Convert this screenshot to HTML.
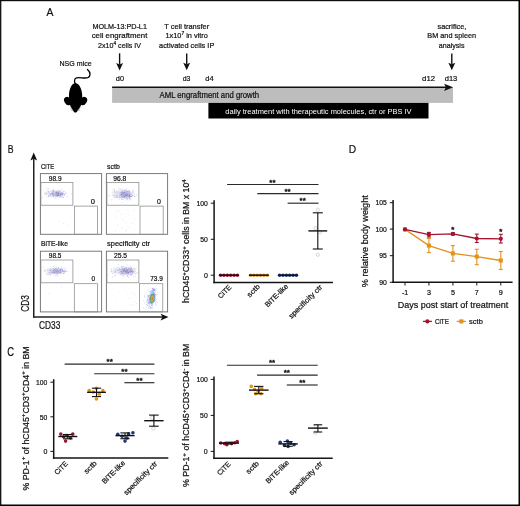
<!DOCTYPE html>
<html><head><meta charset="utf-8"><title>Figure</title>
<style>
html,body{margin:0;padding:0;background:#fff;}
body{width:520px;height:506px;overflow:hidden;font-family:"Liberation Sans",sans-serif;}
#fig{position:absolute;left:0;top:0;width:520px;height:506px;background:#fff;}
svg{position:absolute;left:0;top:0;display:block;}
svg text{font-family:"Liberation Sans",sans-serif;stroke-width:0.22px;}
svg{will-change:transform;}
</style></head><body>
<div id="fig"></div>
<svg width="520" height="506" viewBox="0 0 520 506">
<defs><filter id="bl" x="-30%" y="-30%" width="160%" height="160%"><feGaussianBlur stdDeviation="1.1"/></filter></defs>
<rect x="0.00" y="0.00" width="1.35" height="506.00" fill="#161616"/>
<rect x="0.00" y="0.00" width="520.00" height="1.20" fill="#0d0d0d"/>
<rect x="518.50" y="0.00" width="1.50" height="506.00" fill="#000"/>
<rect x="0.00" y="504.50" width="520.00" height="1.50" fill="#000"/>
<text x="46.60" y="15.70" font-size="11.8" fill="#111" stroke="#111" textLength="6.90" lengthAdjust="spacingAndGlyphs">A</text>
<text x="92.40" y="28.50" font-size="8.1" fill="#111" stroke="#111" textLength="54.50" lengthAdjust="spacingAndGlyphs">MOLM-13:PD-L1</text>
<text x="91.70" y="38.20" font-size="8.1" fill="#111" stroke="#111" textLength="55.70" lengthAdjust="spacingAndGlyphs">cell engraftment</text>
<text x="98.10" y="47.90" font-size="8.1" fill="#111" stroke="#111" textLength="42.90" lengthAdjust="spacingAndGlyphs">2x10<tspan font-size="5.4" dy="-3.0">4</tspan><tspan dy="3.0" font-size="1">&#8203;</tspan> cells IV</text>
<text x="164.20" y="28.50" font-size="8.1" fill="#111" stroke="#111" textLength="45.00" lengthAdjust="spacingAndGlyphs">T cell transfer</text>
<text x="165.50" y="38.20" font-size="8.1" fill="#111" stroke="#111" textLength="42.40" lengthAdjust="spacingAndGlyphs">1x10<tspan font-size="5.4" dy="-3.0">7</tspan><tspan dy="3.0" font-size="1">&#8203;</tspan> in vitro</text>
<text x="159.10" y="47.90" font-size="8.1" fill="#111" stroke="#111" textLength="55.20" lengthAdjust="spacingAndGlyphs">activated cells IP</text>
<text x="437.50" y="28.50" font-size="8.1" fill="#111" stroke="#111" textLength="28.80" lengthAdjust="spacingAndGlyphs">sacrifice,</text>
<text x="427.30" y="38.20" font-size="8.1" fill="#111" stroke="#111" textLength="48.80" lengthAdjust="spacingAndGlyphs">BM and spleen</text>
<text x="438.80" y="47.90" font-size="8.1" fill="#111" stroke="#111" textLength="25.70" lengthAdjust="spacingAndGlyphs">analysis</text>
<text x="59.50" y="66.00" font-size="8.1" fill="#111" stroke="#111" textLength="32.20" lengthAdjust="spacingAndGlyphs">NSG mice</text>
<line x1="119.60" y1="53.30" x2="119.60" y2="64.80" stroke="#111" stroke-width="1.4"/>
<path d="M116.15 63.00 L119.60 64.40 L123.05 63.00 L119.60 70.40 Z" fill="#111"/>
<line x1="186.70" y1="53.50" x2="186.70" y2="64.60" stroke="#111" stroke-width="1.4"/>
<path d="M183.25 62.80 L186.70 64.20 L190.15 62.80 L186.70 70.20 Z" fill="#111"/>
<line x1="451.80" y1="53.50" x2="451.80" y2="64.60" stroke="#111" stroke-width="1.4"/>
<path d="M448.35 62.80 L451.80 64.20 L455.25 62.80 L451.80 70.20 Z" fill="#111"/>
<text x="115.80" y="81.40" font-size="8.1" fill="#111" stroke="#111" textLength="8.20" lengthAdjust="spacingAndGlyphs">d0</text>
<text x="182.70" y="81.40" font-size="8.1" fill="#111" stroke="#111" textLength="7.70" lengthAdjust="spacingAndGlyphs">d3</text>
<text x="205.30" y="81.40" font-size="8.1" fill="#111" stroke="#111" textLength="8.30" lengthAdjust="spacingAndGlyphs">d4</text>
<text x="422.10" y="81.40" font-size="8.1" fill="#111" stroke="#111" textLength="12.90" lengthAdjust="spacingAndGlyphs">d12</text>
<text x="444.70" y="81.40" font-size="8.1" fill="#111" stroke="#111" textLength="12.60" lengthAdjust="spacingAndGlyphs">d13</text>
<rect x="112.10" y="87.30" width="340.90" height="15.60" fill="#bdbdbd"/>
<line x1="112.10" y1="87.35" x2="447.00" y2="87.35" stroke="#111" stroke-width="1.5"/>
<path d="M444.1 83.8 L453.1 87.35 L444.1 90.9 L445.9 87.35 Z" fill="#111"/>
<rect x="208.40" y="102.90" width="220.10" height="15.60" fill="#000"/>
<text x="159.50" y="98.00" font-size="8.2" fill="#111" stroke="#111" textLength="99.70" lengthAdjust="spacingAndGlyphs">AML engraftment and growth</text>
<text x="225.30" y="113.50" font-size="8.0" fill="#fff" textLength="186.20" lengthAdjust="spacingAndGlyphs">daily treatment with therapeutic molecules, ctr or PBS IV</text>
<g fill="#000"><path d="M75.3 83.8 C74.0 81 74.2 78.6 76.6 77.9 C80 76.9 84.6 78.9 87.8 77.6 C90.8 76.3 90.9 72.6 87.5 69.5" fill="none" stroke="#000" stroke-width="1.3" stroke-linecap="round"/><path d="M75.3 82.9 C71.3 83.3 69.2 89.5 69.0 95.0 C68.9 98.5 69.2 102 70.0 104.9 C70.7 106.8 72.2 109.2 73.4 110.9 C74.2 112.9 76.6 112.9 77.4 110.9 C78.8 109.2 80.4 106.8 81.1 104.9 C81.9 102 82.3 98.5 82.2 95 C82.0 89.5 79.6 83.3 75.3 82.9 Z"/><ellipse cx="67.8" cy="101.0" rx="3.4" ry="4.4" transform="rotate(-32 67.8 101.0)"/><ellipse cx="83.4" cy="101.0" rx="3.4" ry="4.4" transform="rotate(32 83.4 101.0)"/></g>
<g stroke="#777" stroke-width="0.55"><line x1="73.2" y1="110.0" x2="70.2" y2="107.6"/><line x1="73.2" y1="110.6" x2="70.6" y2="109.9"/><line x1="77.6" y1="110.0" x2="80.6" y2="107.6"/><line x1="77.6" y1="110.6" x2="80.2" y2="109.9"/></g>
<text x="7.70" y="152.90" font-size="11.6" fill="#111" stroke="#111" textLength="5.80" lengthAdjust="spacingAndGlyphs">B</text>
<line x1="33.75" y1="317.80" x2="33.75" y2="158.50" stroke="#222" stroke-width="1.5"/>
<path d="M30.35 160.4 L33.75 152.4 L37.15 160.4 L33.75 158.7 Z" fill="#111"/>
<line x1="33.00" y1="317.10" x2="163.00" y2="317.10" stroke="#222" stroke-width="1.5"/>
<path d="M160.6 313.7 L168.5 317.1 L160.6 320.5 L162.4 317.1 Z" fill="#111"/>
<text transform="translate(29.1 311.7) rotate(-90)" font-size="10.7" fill="#111" stroke="#111" textLength="16.6" lengthAdjust="spacingAndGlyphs">CD3</text>
<text x="39.00" y="328.80" font-size="10.2" fill="#111" stroke="#111" textLength="21.30" lengthAdjust="spacingAndGlyphs">CD33</text>
<rect x="40.40" y="173.60" width="61.20" height="60.70" fill="none" stroke="#747474" stroke-width="0.95"/>
<text x="41.00" y="168.50" font-size="8.1" fill="#111" stroke="#111" textLength="13.30" lengthAdjust="spacingAndGlyphs">CiTE</text>
<rect x="40.90" y="182.40" width="32.00" height="22.80" fill="none" stroke="#8a8a8a" stroke-width="0.75"/>
<rect x="74.40" y="206.10" width="23.20" height="28.20" fill="none" stroke="#8a8a8a" stroke-width="0.75"/>
<text x="48.80" y="180.50" font-size="7.6" fill="#111" stroke="#111" textLength="12.80" lengthAdjust="spacingAndGlyphs">98.9</text>
<text x="90.80" y="203.70" font-size="7.6" fill="#111" stroke="#111" textLength="4.20" lengthAdjust="spacingAndGlyphs">0</text>
<ellipse cx="55.0" cy="193.6" rx="10.5" ry="3.1" fill="#9090d8" opacity="0.22" filter="url(#bl)"/>
<ellipse cx="57.8" cy="193.6" rx="4.5" ry="1.8" fill="#7070c8" opacity="0.22" filter="url(#bl)"/>
<path d="M60.4 195.3h0.7v0.7h-0.7zM60.6 194.4h0.7v0.7h-0.7zM52.6 194.8h0.7v0.7h-0.7zM47.8 191.2h0.7v0.7h-0.7zM51.0 196.0h0.7v0.7h-0.7zM55.8 196.1h0.7v0.7h-0.7zM56.0 193.2h0.7v0.7h-0.7zM58.8 193.8h0.7v0.7h-0.7zM55.3 194.0h0.7v0.7h-0.7zM55.9 194.9h0.7v0.7h-0.7zM53.3 194.8h0.7v0.7h-0.7zM52.7 192.7h0.7v0.7h-0.7zM59.8 194.2h0.7v0.7h-0.7zM54.3 195.0h0.7v0.7h-0.7zM58.0 192.8h0.7v0.7h-0.7zM60.9 192.8h0.7v0.7h-0.7zM53.0 196.1h0.7v0.7h-0.7zM50.5 194.8h0.7v0.7h-0.7zM56.7 195.4h0.7v0.7h-0.7zM55.1 195.0h0.7v0.7h-0.7zM44.3 193.3h0.7v0.7h-0.7zM59.7 194.0h0.7v0.7h-0.7zM56.6 193.2h0.7v0.7h-0.7zM61.9 193.0h0.7v0.7h-0.7zM51.2 192.7h0.7v0.7h-0.7zM47.7 191.9h0.7v0.7h-0.7zM61.0 195.5h0.7v0.7h-0.7zM56.5 192.0h0.7v0.7h-0.7zM54.6 191.6h0.7v0.7h-0.7zM53.8 195.9h0.7v0.7h-0.7zM58.8 196.2h0.7v0.7h-0.7zM59.3 190.0h0.7v0.7h-0.7zM52.8 193.7h0.7v0.7h-0.7zM49.6 193.9h0.7v0.7h-0.7zM66.3 191.9h0.7v0.7h-0.7zM60.6 194.6h0.7v0.7h-0.7zM53.1 191.4h0.7v0.7h-0.7zM54.6 191.5h0.7v0.7h-0.7zM59.5 195.2h0.7v0.7h-0.7zM60.2 195.9h0.7v0.7h-0.7zM62.5 192.8h0.7v0.7h-0.7zM48.9 196.1h0.7v0.7h-0.7zM59.3 191.4h0.7v0.7h-0.7zM60.8 193.0h0.7v0.7h-0.7zM55.6 195.4h0.7v0.7h-0.7zM62.4 195.9h0.7v0.7h-0.7zM51.5 193.4h0.7v0.7h-0.7zM58.1 192.8h0.7v0.7h-0.7zM57.2 191.8h0.7v0.7h-0.7zM46.1 193.1h0.7v0.7h-0.7zM58.7 194.2h0.7v0.7h-0.7zM45.0 193.4h0.7v0.7h-0.7zM57.9 195.4h0.7v0.7h-0.7zM60.2 194.7h0.7v0.7h-0.7zM49.8 194.3h0.7v0.7h-0.7zM57.7 192.8h0.7v0.7h-0.7zM63.8 191.1h0.7v0.7h-0.7zM66.8 196.4h0.7v0.7h-0.7zM48.1 195.0h0.7v0.7h-0.7zM51.7 193.5h0.7v0.7h-0.7zM58.8 194.8h0.7v0.7h-0.7zM61.3 192.7h0.7v0.7h-0.7zM54.1 194.0h0.7v0.7h-0.7zM66.6 196.0h0.7v0.7h-0.7zM61.5 192.6h0.7v0.7h-0.7zM57.9 194.3h0.7v0.7h-0.7zM60.8 196.6h0.7v0.7h-0.7zM58.7 195.1h0.7v0.7h-0.7zM61.1 189.2h0.7v0.7h-0.7zM57.4 191.8h0.7v0.7h-0.7zM52.5 195.2h0.7v0.7h-0.7zM60.2 191.6h0.7v0.7h-0.7zM57.2 194.0h0.7v0.7h-0.7zM53.2 195.4h0.7v0.7h-0.7zM58.8 194.6h0.7v0.7h-0.7zM64.1 194.2h0.7v0.7h-0.7zM56.5 192.7h0.7v0.7h-0.7zM58.5 192.9h0.7v0.7h-0.7zM56.5 195.5h0.7v0.7h-0.7zM52.7 190.8h0.7v0.7h-0.7zM53.0 189.2h0.7v0.7h-0.7zM54.5 190.5h0.7v0.7h-0.7zM52.5 192.0h0.7v0.7h-0.7zM53.7 193.6h0.7v0.7h-0.7zM57.6 192.5h0.7v0.7h-0.7zM55.5 197.7h0.7v0.7h-0.7zM60.0 193.0h0.7v0.7h-0.7zM57.0 193.1h0.7v0.7h-0.7zM55.0 191.8h0.7v0.7h-0.7zM60.1 194.0h0.7v0.7h-0.7zM65.0 193.1h0.7v0.7h-0.7zM42.1 197.1h0.7v0.7h-0.7zM62.1 194.9h0.7v0.7h-0.7zM52.7 193.6h0.7v0.7h-0.7zM51.2 191.3h0.7v0.7h-0.7zM56.7 194.1h0.7v0.7h-0.7zM57.8 190.8h0.7v0.7h-0.7zM54.7 194.0h0.7v0.7h-0.7zM60.6 194.2h0.7v0.7h-0.7zM55.6 194.1h0.7v0.7h-0.7zM62.1 194.3h0.7v0.7h-0.7zM57.4 195.3h0.7v0.7h-0.7zM56.0 191.1h0.7v0.7h-0.7zM57.9 191.5h0.7v0.7h-0.7zM61.1 192.6h0.7v0.7h-0.7zM56.4 194.6h0.7v0.7h-0.7zM49.2 193.6h0.7v0.7h-0.7zM50.5 194.0h0.7v0.7h-0.7zM59.6 195.2h0.7v0.7h-0.7zM57.6 195.5h0.7v0.7h-0.7zM59.3 190.9h0.7v0.7h-0.7zM55.6 196.0h0.7v0.7h-0.7zM59.7 193.3h0.7v0.7h-0.7zM62.6 196.7h0.7v0.7h-0.7zM57.8 193.5h0.7v0.7h-0.7zM61.7 192.6h0.7v0.7h-0.7zM56.3 195.4h0.7v0.7h-0.7zM56.7 195.1h0.7v0.7h-0.7zM60.4 191.8h0.7v0.7h-0.7zM60.9 193.9h0.7v0.7h-0.7zM58.3 195.1h0.7v0.7h-0.7zM57.5 193.7h0.7v0.7h-0.7zM49.4 193.5h0.7v0.7h-0.7zM58.8 192.7h0.7v0.7h-0.7zM60.6 192.6h0.7v0.7h-0.7zM58.7 195.5h0.7v0.7h-0.7zM55.2 192.8h0.7v0.7h-0.7zM53.2 194.3h0.7v0.7h-0.7zM71.1 193.5h0.7v0.7h-0.7zM56.3 192.4h0.7v0.7h-0.7zM51.0 194.0h0.7v0.7h-0.7zM53.2 196.5h0.7v0.7h-0.7zM58.0 192.2h0.7v0.7h-0.7zM54.5 193.2h0.7v0.7h-0.7zM64.2 194.8h0.7v0.7h-0.7zM61.7 194.4h0.7v0.7h-0.7zM61.9 193.1h0.7v0.7h-0.7zM48.2 188.5h0.7v0.7h-0.7zM58.0 190.4h0.7v0.7h-0.7z" fill="#8888d6" opacity="0.5"/>
<path d="M62.3 195.4h0.7v0.7h-0.7zM60.0 194.7h0.7v0.7h-0.7zM54.7 196.8h0.7v0.7h-0.7zM63.1 191.0h0.7v0.7h-0.7zM50.3 193.4h0.7v0.7h-0.7zM58.5 195.4h0.7v0.7h-0.7zM58.0 192.3h0.7v0.7h-0.7zM47.3 189.8h0.7v0.7h-0.7zM61.0 192.8h0.7v0.7h-0.7zM55.0 192.5h0.7v0.7h-0.7zM57.7 193.3h0.7v0.7h-0.7zM56.9 192.2h0.7v0.7h-0.7zM58.1 193.8h0.7v0.7h-0.7zM62.9 195.0h0.7v0.7h-0.7zM65.9 192.7h0.7v0.7h-0.7zM53.0 193.0h0.7v0.7h-0.7zM44.8 192.4h0.7v0.7h-0.7zM45.3 193.5h0.7v0.7h-0.7zM51.6 191.8h0.7v0.7h-0.7zM52.6 194.1h0.7v0.7h-0.7zM63.3 196.9h0.7v0.7h-0.7zM43.4 189.7h0.7v0.7h-0.7zM57.0 193.2h0.7v0.7h-0.7zM47.9 194.9h0.7v0.7h-0.7zM59.4 193.4h0.7v0.7h-0.7zM51.5 193.7h0.7v0.7h-0.7zM56.4 194.2h0.7v0.7h-0.7z" fill="#b8b070" opacity="0.5"/>
<path d="M52.5 193.1h0.7v0.7h-0.7zM55.7 195.0h0.7v0.7h-0.7zM56.5 191.6h0.7v0.7h-0.7zM48.2 196.2h0.7v0.7h-0.7zM51.7 192.7h0.7v0.7h-0.7zM58.1 194.6h0.7v0.7h-0.7zM56.6 194.0h0.7v0.7h-0.7zM62.4 193.5h0.7v0.7h-0.7zM62.5 192.8h0.7v0.7h-0.7zM63.8 194.2h0.7v0.7h-0.7zM62.5 197.2h0.7v0.7h-0.7zM57.2 195.3h0.7v0.7h-0.7zM58.1 192.6h0.7v0.7h-0.7zM56.4 192.3h0.7v0.7h-0.7zM59.4 197.3h0.7v0.7h-0.7zM46.4 188.4h0.7v0.7h-0.7zM62.2 194.4h0.7v0.7h-0.7zM57.9 195.2h0.7v0.7h-0.7zM53.3 191.5h0.7v0.7h-0.7zM60.8 193.6h0.7v0.7h-0.7zM52.7 193.2h0.7v0.7h-0.7zM52.7 190.8h0.7v0.7h-0.7zM62.7 193.2h0.7v0.7h-0.7zM61.1 194.4h0.7v0.7h-0.7zM60.0 194.5h0.7v0.7h-0.7zM57.6 193.1h0.7v0.7h-0.7zM58.1 195.3h0.7v0.7h-0.7zM57.1 196.0h0.7v0.7h-0.7zM57.8 195.1h0.7v0.7h-0.7zM53.1 194.7h0.7v0.7h-0.7zM52.5 190.1h0.7v0.7h-0.7zM48.1 191.5h0.7v0.7h-0.7zM60.0 196.4h0.7v0.7h-0.7zM60.6 193.9h0.7v0.7h-0.7zM58.9 193.2h0.7v0.7h-0.7zM55.6 192.2h0.7v0.7h-0.7zM52.2 193.9h0.7v0.7h-0.7zM58.4 193.4h0.7v0.7h-0.7zM55.6 192.6h0.7v0.7h-0.7zM58.2 195.2h0.7v0.7h-0.7zM50.1 194.8h0.7v0.7h-0.7z" fill="#4848b8" opacity="0.5"/>
<path d="M65.1 222.9h0.6v0.6h-0.6zM59.3 221.7h0.6v0.6h-0.6zM67.2 224.6h0.6v0.6h-0.6zM62.9 223.1h0.6v0.6h-0.6zM54.7 230.2h0.6v0.6h-0.6z" fill="#8a8ad8" opacity="0.4"/>
<rect x="106.40" y="173.60" width="61.20" height="60.70" fill="none" stroke="#747474" stroke-width="0.95"/>
<text x="107.00" y="168.50" font-size="8.1" fill="#111" stroke="#111" textLength="12.80" lengthAdjust="spacingAndGlyphs">sctb</text>
<rect x="106.90" y="182.40" width="32.00" height="22.80" fill="none" stroke="#8a8a8a" stroke-width="0.75"/>
<rect x="140.00" y="206.10" width="23.20" height="28.20" fill="none" stroke="#8a8a8a" stroke-width="0.75"/>
<text x="113.20" y="180.50" font-size="7.6" fill="#111" stroke="#111" textLength="13.10" lengthAdjust="spacingAndGlyphs">96.8</text>
<text x="156.90" y="203.70" font-size="7.6" fill="#111" stroke="#111" textLength="3.90" lengthAdjust="spacingAndGlyphs">0</text>
<ellipse cx="122.7" cy="194.4" rx="10.9" ry="4.4" fill="#9090d8" opacity="0.22" filter="url(#bl)"/>
<ellipse cx="125.6" cy="194.4" rx="4.7" ry="2.6" fill="#7070c8" opacity="0.22" filter="url(#bl)"/>
<path d="M126.5 191.7h0.7v0.7h-0.7zM122.1 192.3h0.7v0.7h-0.7zM128.2 195.6h0.7v0.7h-0.7zM123.4 193.0h0.7v0.7h-0.7zM128.5 195.6h0.7v0.7h-0.7zM119.4 194.3h0.7v0.7h-0.7zM123.1 193.7h0.7v0.7h-0.7zM125.6 194.7h0.7v0.7h-0.7zM113.8 191.8h0.7v0.7h-0.7zM125.7 194.1h0.7v0.7h-0.7zM124.5 197.8h0.7v0.7h-0.7zM114.1 190.5h0.7v0.7h-0.7zM124.8 196.6h0.7v0.7h-0.7zM124.5 196.5h0.7v0.7h-0.7zM133.9 193.5h0.7v0.7h-0.7zM126.9 191.3h0.7v0.7h-0.7zM129.0 196.0h0.7v0.7h-0.7zM124.5 196.4h0.7v0.7h-0.7zM116.3 191.4h0.7v0.7h-0.7zM129.6 198.1h0.7v0.7h-0.7zM124.0 192.8h0.7v0.7h-0.7zM122.5 191.3h0.7v0.7h-0.7zM129.2 199.4h0.7v0.7h-0.7zM119.6 192.3h0.7v0.7h-0.7zM120.5 190.4h0.7v0.7h-0.7zM123.8 194.5h0.7v0.7h-0.7zM126.0 195.1h0.7v0.7h-0.7zM122.2 192.8h0.7v0.7h-0.7z" fill="#b8b070" opacity="0.5"/>
<path d="M125.6 192.8h0.7v0.7h-0.7zM112.6 194.9h0.7v0.7h-0.7zM126.5 194.0h0.7v0.7h-0.7zM120.0 192.9h0.7v0.7h-0.7zM122.8 193.6h0.7v0.7h-0.7zM125.6 196.0h0.7v0.7h-0.7zM127.3 193.7h0.7v0.7h-0.7zM129.4 194.3h0.7v0.7h-0.7zM128.8 196.7h0.7v0.7h-0.7zM128.0 195.1h0.7v0.7h-0.7zM120.7 192.1h0.7v0.7h-0.7zM126.3 191.4h0.7v0.7h-0.7zM121.9 192.8h0.7v0.7h-0.7zM125.1 194.9h0.7v0.7h-0.7zM124.8 189.8h0.7v0.7h-0.7zM115.8 196.2h0.7v0.7h-0.7zM116.8 195.9h0.7v0.7h-0.7zM130.7 195.5h0.7v0.7h-0.7zM131.1 194.8h0.7v0.7h-0.7zM116.0 196.7h0.7v0.7h-0.7zM126.5 195.3h0.7v0.7h-0.7zM128.3 192.8h0.7v0.7h-0.7zM124.5 195.4h0.7v0.7h-0.7zM128.7 197.0h0.7v0.7h-0.7zM122.0 192.5h0.7v0.7h-0.7zM111.7 189.9h0.7v0.7h-0.7zM128.5 190.6h0.7v0.7h-0.7zM125.9 197.2h0.7v0.7h-0.7zM124.5 190.0h0.7v0.7h-0.7zM128.1 190.0h0.7v0.7h-0.7zM122.3 192.9h0.7v0.7h-0.7zM114.3 195.6h0.7v0.7h-0.7zM123.5 190.6h0.7v0.7h-0.7zM119.7 195.2h0.7v0.7h-0.7zM125.8 194.9h0.7v0.7h-0.7zM114.4 189.4h0.7v0.7h-0.7zM134.2 194.3h0.7v0.7h-0.7zM129.3 194.1h0.7v0.7h-0.7zM121.0 192.0h0.7v0.7h-0.7zM125.6 196.2h0.7v0.7h-0.7zM125.3 196.9h0.7v0.7h-0.7zM126.6 196.4h0.7v0.7h-0.7zM125.6 193.1h0.7v0.7h-0.7zM121.1 193.8h0.7v0.7h-0.7zM113.2 195.6h0.7v0.7h-0.7zM119.4 193.5h0.7v0.7h-0.7zM129.8 194.2h0.7v0.7h-0.7zM127.6 195.1h0.7v0.7h-0.7zM122.8 194.2h0.7v0.7h-0.7zM121.9 191.9h0.7v0.7h-0.7zM122.1 195.4h0.7v0.7h-0.7zM126.3 197.4h0.7v0.7h-0.7zM126.3 197.1h0.7v0.7h-0.7zM123.0 192.7h0.7v0.7h-0.7zM121.4 191.2h0.7v0.7h-0.7zM122.1 202.0h0.7v0.7h-0.7zM127.6 194.6h0.7v0.7h-0.7zM121.0 194.3h0.7v0.7h-0.7zM124.5 193.3h0.7v0.7h-0.7zM124.6 193.6h0.7v0.7h-0.7zM131.8 192.5h0.7v0.7h-0.7zM127.8 194.7h0.7v0.7h-0.7zM123.3 196.4h0.7v0.7h-0.7zM128.3 191.7h0.7v0.7h-0.7zM124.9 191.7h0.7v0.7h-0.7zM114.2 197.3h0.7v0.7h-0.7zM127.1 194.6h0.7v0.7h-0.7zM126.1 194.8h0.7v0.7h-0.7zM125.0 193.9h0.7v0.7h-0.7zM131.2 196.3h0.7v0.7h-0.7zM129.4 193.7h0.7v0.7h-0.7zM126.0 195.4h0.7v0.7h-0.7zM132.7 191.3h0.7v0.7h-0.7zM117.8 192.3h0.7v0.7h-0.7zM126.8 191.5h0.7v0.7h-0.7zM125.0 194.6h0.7v0.7h-0.7zM134.1 196.2h0.7v0.7h-0.7zM115.1 192.0h0.7v0.7h-0.7zM128.6 195.8h0.7v0.7h-0.7zM126.9 198.5h0.7v0.7h-0.7zM126.3 188.7h0.7v0.7h-0.7zM129.7 196.2h0.7v0.7h-0.7zM123.9 193.8h0.7v0.7h-0.7zM122.5 196.5h0.7v0.7h-0.7zM129.7 194.3h0.7v0.7h-0.7zM121.7 190.7h0.7v0.7h-0.7zM120.7 197.4h0.7v0.7h-0.7zM129.0 197.8h0.7v0.7h-0.7zM121.7 196.9h0.7v0.7h-0.7zM127.4 193.4h0.7v0.7h-0.7zM125.8 190.5h0.7v0.7h-0.7zM126.3 199.6h0.7v0.7h-0.7zM121.5 192.8h0.7v0.7h-0.7zM126.7 195.4h0.7v0.7h-0.7zM117.4 195.3h0.7v0.7h-0.7zM128.3 192.9h0.7v0.7h-0.7zM121.5 195.1h0.7v0.7h-0.7zM112.7 191.8h0.7v0.7h-0.7zM113.1 188.5h0.7v0.7h-0.7zM116.7 191.4h0.7v0.7h-0.7zM123.5 190.2h0.7v0.7h-0.7zM119.5 189.6h0.7v0.7h-0.7zM122.1 190.8h0.7v0.7h-0.7zM115.3 197.0h0.7v0.7h-0.7zM123.8 194.1h0.7v0.7h-0.7zM125.0 194.5h0.7v0.7h-0.7zM119.0 197.1h0.7v0.7h-0.7zM125.6 198.3h0.7v0.7h-0.7zM113.9 191.1h0.7v0.7h-0.7zM114.1 190.6h0.7v0.7h-0.7zM129.4 198.5h0.7v0.7h-0.7zM124.5 196.9h0.7v0.7h-0.7zM109.0 195.6h0.7v0.7h-0.7zM108.4 195.1h0.7v0.7h-0.7zM122.5 192.1h0.7v0.7h-0.7zM124.6 196.3h0.7v0.7h-0.7zM132.9 191.0h0.7v0.7h-0.7zM123.2 196.7h0.7v0.7h-0.7zM128.0 195.2h0.7v0.7h-0.7zM129.0 192.6h0.7v0.7h-0.7zM132.4 190.6h0.7v0.7h-0.7zM128.0 196.3h0.7v0.7h-0.7zM129.7 192.6h0.7v0.7h-0.7zM119.4 193.4h0.7v0.7h-0.7zM119.8 192.4h0.7v0.7h-0.7zM132.1 195.3h0.7v0.7h-0.7zM129.2 196.6h0.7v0.7h-0.7zM124.7 191.5h0.7v0.7h-0.7zM127.8 193.5h0.7v0.7h-0.7zM119.9 193.1h0.7v0.7h-0.7zM122.7 194.5h0.7v0.7h-0.7zM118.8 197.1h0.7v0.7h-0.7zM127.0 194.2h0.7v0.7h-0.7zM122.5 193.7h0.7v0.7h-0.7zM122.2 192.4h0.7v0.7h-0.7zM123.8 192.4h0.7v0.7h-0.7zM126.0 194.9h0.7v0.7h-0.7zM117.9 191.6h0.7v0.7h-0.7zM116.6 193.4h0.7v0.7h-0.7zM126.2 194.5h0.7v0.7h-0.7zM128.7 193.3h0.7v0.7h-0.7zM124.2 193.3h0.7v0.7h-0.7zM121.0 194.6h0.7v0.7h-0.7zM125.3 192.5h0.7v0.7h-0.7zM130.7 194.8h0.7v0.7h-0.7zM125.3 189.7h0.7v0.7h-0.7zM118.6 187.7h0.7v0.7h-0.7zM122.1 193.5h0.7v0.7h-0.7zM123.8 194.7h0.7v0.7h-0.7zM122.1 191.3h0.7v0.7h-0.7zM129.8 199.1h0.7v0.7h-0.7zM126.2 192.2h0.7v0.7h-0.7zM116.2 193.2h0.7v0.7h-0.7zM114.1 189.3h0.7v0.7h-0.7zM121.8 193.8h0.7v0.7h-0.7zM124.4 196.5h0.7v0.7h-0.7zM123.9 191.8h0.7v0.7h-0.7zM121.9 194.6h0.7v0.7h-0.7zM129.6 198.3h0.7v0.7h-0.7zM129.9 197.8h0.7v0.7h-0.7zM125.6 189.6h0.7v0.7h-0.7zM128.6 195.1h0.7v0.7h-0.7zM130.6 196.4h0.7v0.7h-0.7zM123.4 194.3h0.7v0.7h-0.7zM127.7 197.3h0.7v0.7h-0.7zM122.1 197.2h0.7v0.7h-0.7zM128.9 193.3h0.7v0.7h-0.7zM124.3 194.6h0.7v0.7h-0.7zM123.4 196.5h0.7v0.7h-0.7zM127.3 199.0h0.7v0.7h-0.7zM130.8 193.2h0.7v0.7h-0.7zM127.7 194.7h0.7v0.7h-0.7zM126.4 194.5h0.7v0.7h-0.7zM121.1 192.9h0.7v0.7h-0.7zM123.8 194.8h0.7v0.7h-0.7zM122.3 195.4h0.7v0.7h-0.7zM130.9 196.0h0.7v0.7h-0.7zM128.9 197.2h0.7v0.7h-0.7zM118.9 198.9h0.7v0.7h-0.7zM123.4 195.9h0.7v0.7h-0.7zM126.8 195.7h0.7v0.7h-0.7zM128.6 191.9h0.7v0.7h-0.7zM129.8 199.9h0.7v0.7h-0.7zM132.5 188.9h0.7v0.7h-0.7zM126.9 194.5h0.7v0.7h-0.7zM125.8 195.4h0.7v0.7h-0.7zM129.6 197.7h0.7v0.7h-0.7zM125.6 194.9h0.7v0.7h-0.7zM127.5 196.5h0.7v0.7h-0.7zM129.4 192.5h0.7v0.7h-0.7zM126.4 193.5h0.7v0.7h-0.7zM116.6 195.5h0.7v0.7h-0.7zM127.1 196.1h0.7v0.7h-0.7zM125.2 192.7h0.7v0.7h-0.7zM127.5 192.2h0.7v0.7h-0.7zM128.8 194.9h0.7v0.7h-0.7zM126.9 195.4h0.7v0.7h-0.7zM123.0 195.7h0.7v0.7h-0.7zM120.4 188.5h0.7v0.7h-0.7zM121.8 192.3h0.7v0.7h-0.7zM125.4 193.7h0.7v0.7h-0.7zM121.0 196.3h0.7v0.7h-0.7zM121.5 196.6h0.7v0.7h-0.7zM124.4 191.8h0.7v0.7h-0.7zM133.3 192.1h0.7v0.7h-0.7zM124.3 190.7h0.7v0.7h-0.7zM128.6 191.0h0.7v0.7h-0.7zM121.7 193.9h0.7v0.7h-0.7zM129.4 195.9h0.7v0.7h-0.7zM125.6 198.2h0.7v0.7h-0.7zM130.3 192.9h0.7v0.7h-0.7zM122.8 195.1h0.7v0.7h-0.7zM125.7 193.4h0.7v0.7h-0.7zM128.4 196.5h0.7v0.7h-0.7zM120.8 192.9h0.7v0.7h-0.7z" fill="#8888d6" opacity="0.5"/>
<path d="M126.9 194.9h0.7v0.7h-0.7zM119.7 195.0h0.7v0.7h-0.7zM111.5 199.5h0.7v0.7h-0.7zM129.3 194.9h0.7v0.7h-0.7zM121.0 193.8h0.7v0.7h-0.7zM127.3 194.8h0.7v0.7h-0.7zM126.1 193.9h0.7v0.7h-0.7zM124.1 196.6h0.7v0.7h-0.7zM119.9 196.9h0.7v0.7h-0.7zM129.2 194.2h0.7v0.7h-0.7zM116.4 195.1h0.7v0.7h-0.7zM127.2 191.3h0.7v0.7h-0.7zM129.8 195.5h0.7v0.7h-0.7zM136.5 194.7h0.7v0.7h-0.7zM121.0 198.8h0.7v0.7h-0.7zM122.3 196.2h0.7v0.7h-0.7zM122.4 188.9h0.7v0.7h-0.7zM128.9 194.8h0.7v0.7h-0.7zM117.3 197.2h0.7v0.7h-0.7zM124.7 195.5h0.7v0.7h-0.7zM121.7 192.3h0.7v0.7h-0.7zM121.2 196.3h0.7v0.7h-0.7zM120.5 194.5h0.7v0.7h-0.7zM125.2 194.6h0.7v0.7h-0.7zM123.6 192.6h0.7v0.7h-0.7zM123.8 195.5h0.7v0.7h-0.7zM124.0 192.9h0.7v0.7h-0.7zM126.9 193.3h0.7v0.7h-0.7zM124.2 192.0h0.7v0.7h-0.7zM124.8 195.6h0.7v0.7h-0.7zM123.5 197.3h0.7v0.7h-0.7zM125.9 191.5h0.7v0.7h-0.7zM119.1 196.4h0.7v0.7h-0.7zM126.4 194.8h0.7v0.7h-0.7zM119.6 193.9h0.7v0.7h-0.7zM123.9 197.0h0.7v0.7h-0.7zM122.4 199.0h0.7v0.7h-0.7zM122.8 192.1h0.7v0.7h-0.7zM129.1 191.4h0.7v0.7h-0.7zM129.1 195.7h0.7v0.7h-0.7zM121.1 194.2h0.7v0.7h-0.7zM127.4 198.4h0.7v0.7h-0.7zM131.3 196.3h0.7v0.7h-0.7zM134.6 196.2h0.7v0.7h-0.7zM125.8 195.1h0.7v0.7h-0.7zM121.7 194.3h0.7v0.7h-0.7zM129.1 190.9h0.7v0.7h-0.7zM129.7 196.5h0.7v0.7h-0.7zM125.7 194.9h0.7v0.7h-0.7zM132.6 195.0h0.7v0.7h-0.7z" fill="#4848b8" opacity="0.5"/>
<path d="M126.3 222.3h0.6v0.6h-0.6zM115.1 230.0h0.6v0.6h-0.6zM115.4 217.2h0.6v0.6h-0.6zM122.4 227.2h0.6v0.6h-0.6zM128.7 227.3h0.6v0.6h-0.6zM125.7 230.3h0.6v0.6h-0.6zM120.8 218.0h0.6v0.6h-0.6zM125.6 216.4h0.6v0.6h-0.6zM117.3 223.9h0.6v0.6h-0.6zM121.5 227.9h0.6v0.6h-0.6zM127.7 209.8h0.6v0.6h-0.6zM116.6 213.5h0.6v0.6h-0.6zM120.9 213.8h0.6v0.6h-0.6zM127.8 214.3h0.6v0.6h-0.6zM122.8 217.9h0.6v0.6h-0.6zM134.4 219.1h0.6v0.6h-0.6zM115.3 230.2h0.6v0.6h-0.6zM133.9 210.4h0.6v0.6h-0.6zM131.7 222.6h0.6v0.6h-0.6zM132.8 222.7h0.6v0.6h-0.6zM127.0 226.5h0.6v0.6h-0.6zM115.1 211.7h0.6v0.6h-0.6zM116.8 209.9h0.6v0.6h-0.6zM119.1 210.4h0.6v0.6h-0.6zM116.7 216.9h0.6v0.6h-0.6zM117.7 210.9h0.6v0.6h-0.6zM133.6 228.9h0.6v0.6h-0.6zM132.4 211.4h0.6v0.6h-0.6zM126.2 229.2h0.6v0.6h-0.6zM123.2 220.3h0.6v0.6h-0.6z" fill="#8a8ad8" opacity="0.4"/>
<rect x="40.40" y="251.20" width="61.20" height="60.70" fill="none" stroke="#747474" stroke-width="0.95"/>
<text x="41.00" y="246.10" font-size="8.1" fill="#111" stroke="#111" textLength="27.00" lengthAdjust="spacingAndGlyphs">BiTE-like</text>
<rect x="40.90" y="260.00" width="32.00" height="22.80" fill="none" stroke="#8a8a8a" stroke-width="0.75"/>
<rect x="74.30" y="283.70" width="23.20" height="28.20" fill="none" stroke="#8a8a8a" stroke-width="0.75"/>
<text x="48.80" y="258.10" font-size="7.6" fill="#111" stroke="#111" textLength="12.60" lengthAdjust="spacingAndGlyphs">98.5</text>
<text x="91.60" y="281.30" font-size="7.6" fill="#111" stroke="#111" textLength="3.70" lengthAdjust="spacingAndGlyphs">0</text>
<ellipse cx="54.8" cy="270.9" rx="10.1" ry="3.1" fill="#9090d8" opacity="0.22" filter="url(#bl)"/>
<ellipse cx="57.4" cy="270.9" rx="4.3" ry="1.8" fill="#7070c8" opacity="0.22" filter="url(#bl)"/>
<path d="M61.9 269.3h0.7v0.7h-0.7zM53.5 270.0h0.7v0.7h-0.7zM53.2 273.2h0.7v0.7h-0.7zM54.9 271.1h0.7v0.7h-0.7zM53.8 273.2h0.7v0.7h-0.7zM56.3 271.9h0.7v0.7h-0.7zM57.6 270.1h0.7v0.7h-0.7zM52.9 271.8h0.7v0.7h-0.7zM61.9 270.8h0.7v0.7h-0.7zM56.6 270.2h0.7v0.7h-0.7zM54.5 269.4h0.7v0.7h-0.7zM49.8 270.9h0.7v0.7h-0.7zM58.7 268.0h0.7v0.7h-0.7zM54.3 271.4h0.7v0.7h-0.7zM56.3 272.6h0.7v0.7h-0.7zM55.9 271.6h0.7v0.7h-0.7zM60.5 268.6h0.7v0.7h-0.7zM51.5 272.3h0.7v0.7h-0.7zM57.1 274.0h0.7v0.7h-0.7zM50.3 268.2h0.7v0.7h-0.7zM53.1 270.9h0.7v0.7h-0.7zM59.6 272.2h0.7v0.7h-0.7zM57.9 268.3h0.7v0.7h-0.7zM50.5 271.6h0.7v0.7h-0.7zM54.6 269.5h0.7v0.7h-0.7zM55.5 273.5h0.7v0.7h-0.7zM47.6 269.8h0.7v0.7h-0.7zM53.9 270.7h0.7v0.7h-0.7zM57.8 270.4h0.7v0.7h-0.7zM50.6 270.3h0.7v0.7h-0.7zM58.5 271.9h0.7v0.7h-0.7zM56.4 270.6h0.7v0.7h-0.7zM60.5 270.5h0.7v0.7h-0.7zM64.0 271.8h0.7v0.7h-0.7zM61.8 269.3h0.7v0.7h-0.7zM57.3 273.9h0.7v0.7h-0.7zM53.8 272.4h0.7v0.7h-0.7zM53.6 272.3h0.7v0.7h-0.7zM54.2 272.4h0.7v0.7h-0.7zM50.9 272.4h0.7v0.7h-0.7zM55.6 272.2h0.7v0.7h-0.7zM51.8 272.1h0.7v0.7h-0.7zM56.7 273.6h0.7v0.7h-0.7zM52.2 271.4h0.7v0.7h-0.7zM57.9 272.5h0.7v0.7h-0.7zM57.1 270.1h0.7v0.7h-0.7zM59.0 271.4h0.7v0.7h-0.7zM58.0 267.0h0.7v0.7h-0.7zM56.6 271.9h0.7v0.7h-0.7zM64.3 267.7h0.7v0.7h-0.7zM57.0 273.0h0.7v0.7h-0.7zM59.0 269.8h0.7v0.7h-0.7zM62.3 273.0h0.7v0.7h-0.7zM56.0 271.1h0.7v0.7h-0.7zM57.5 270.1h0.7v0.7h-0.7zM52.5 268.4h0.7v0.7h-0.7zM57.8 268.8h0.7v0.7h-0.7zM44.8 269.0h0.7v0.7h-0.7zM60.0 271.4h0.7v0.7h-0.7zM60.3 270.4h0.7v0.7h-0.7zM55.5 268.1h0.7v0.7h-0.7zM55.8 268.4h0.7v0.7h-0.7zM60.1 273.0h0.7v0.7h-0.7zM57.4 271.4h0.7v0.7h-0.7zM60.9 272.0h0.7v0.7h-0.7zM56.2 268.8h0.7v0.7h-0.7zM64.7 271.0h0.7v0.7h-0.7zM50.5 272.5h0.7v0.7h-0.7zM57.6 272.9h0.7v0.7h-0.7zM57.5 270.0h0.7v0.7h-0.7zM52.5 271.5h0.7v0.7h-0.7zM56.7 272.2h0.7v0.7h-0.7zM59.4 270.2h0.7v0.7h-0.7zM50.8 271.3h0.7v0.7h-0.7zM55.7 267.0h0.7v0.7h-0.7zM54.2 271.0h0.7v0.7h-0.7zM51.2 273.0h0.7v0.7h-0.7zM42.7 266.8h0.7v0.7h-0.7zM64.2 272.8h0.7v0.7h-0.7zM57.2 269.2h0.7v0.7h-0.7zM62.9 273.2h0.7v0.7h-0.7zM52.0 272.3h0.7v0.7h-0.7zM54.8 272.2h0.7v0.7h-0.7zM54.0 271.7h0.7v0.7h-0.7zM63.5 270.8h0.7v0.7h-0.7zM60.5 271.3h0.7v0.7h-0.7zM56.0 270.3h0.7v0.7h-0.7zM61.0 266.2h0.7v0.7h-0.7zM62.8 271.0h0.7v0.7h-0.7zM63.8 270.3h0.7v0.7h-0.7zM63.4 270.1h0.7v0.7h-0.7zM44.1 271.3h0.7v0.7h-0.7zM44.4 270.2h0.7v0.7h-0.7zM57.1 268.7h0.7v0.7h-0.7zM57.6 272.5h0.7v0.7h-0.7zM56.4 275.5h0.7v0.7h-0.7zM55.2 268.9h0.7v0.7h-0.7zM58.0 272.8h0.7v0.7h-0.7zM56.3 268.5h0.7v0.7h-0.7zM50.7 271.8h0.7v0.7h-0.7zM57.7 270.1h0.7v0.7h-0.7zM58.2 271.0h0.7v0.7h-0.7zM58.6 271.4h0.7v0.7h-0.7zM60.3 268.6h0.7v0.7h-0.7zM57.3 269.6h0.7v0.7h-0.7zM53.7 270.2h0.7v0.7h-0.7zM52.3 270.1h0.7v0.7h-0.7zM59.3 270.3h0.7v0.7h-0.7zM58.8 271.0h0.7v0.7h-0.7zM49.6 269.9h0.7v0.7h-0.7zM60.4 271.1h0.7v0.7h-0.7zM56.6 270.9h0.7v0.7h-0.7zM60.3 269.5h0.7v0.7h-0.7zM54.9 270.7h0.7v0.7h-0.7zM59.1 271.1h0.7v0.7h-0.7zM50.2 273.3h0.7v0.7h-0.7zM55.6 272.3h0.7v0.7h-0.7zM49.0 272.0h0.7v0.7h-0.7zM49.7 269.2h0.7v0.7h-0.7zM55.0 275.2h0.7v0.7h-0.7zM50.1 274.8h0.7v0.7h-0.7zM48.5 274.2h0.7v0.7h-0.7zM55.7 268.1h0.7v0.7h-0.7zM58.0 270.9h0.7v0.7h-0.7zM58.4 267.6h0.7v0.7h-0.7zM56.7 270.7h0.7v0.7h-0.7zM59.0 271.3h0.7v0.7h-0.7zM65.8 268.7h0.7v0.7h-0.7zM53.2 272.8h0.7v0.7h-0.7zM50.5 269.6h0.7v0.7h-0.7zM55.8 271.5h0.7v0.7h-0.7zM51.3 269.6h0.7v0.7h-0.7zM51.8 270.3h0.7v0.7h-0.7z" fill="#8888d6" opacity="0.5"/>
<path d="M60.6 271.8h0.7v0.7h-0.7zM58.8 272.6h0.7v0.7h-0.7zM61.6 268.3h0.7v0.7h-0.7zM54.5 272.1h0.7v0.7h-0.7zM65.5 271.1h0.7v0.7h-0.7zM55.3 267.9h0.7v0.7h-0.7zM52.9 270.7h0.7v0.7h-0.7zM61.7 271.4h0.7v0.7h-0.7zM61.9 270.3h0.7v0.7h-0.7zM57.9 275.9h0.7v0.7h-0.7zM54.2 269.2h0.7v0.7h-0.7zM59.1 272.4h0.7v0.7h-0.7zM56.6 271.2h0.7v0.7h-0.7zM63.5 271.0h0.7v0.7h-0.7zM60.2 272.1h0.7v0.7h-0.7zM53.0 267.9h0.7v0.7h-0.7zM54.5 272.7h0.7v0.7h-0.7zM48.9 269.9h0.7v0.7h-0.7zM63.4 270.9h0.7v0.7h-0.7zM60.3 269.0h0.7v0.7h-0.7zM48.8 272.3h0.7v0.7h-0.7zM64.8 271.5h0.7v0.7h-0.7zM56.9 269.8h0.7v0.7h-0.7zM63.2 272.8h0.7v0.7h-0.7zM53.1 266.3h0.7v0.7h-0.7zM66.6 271.2h0.7v0.7h-0.7zM53.6 269.0h0.7v0.7h-0.7zM61.7 269.9h0.7v0.7h-0.7zM57.6 271.7h0.7v0.7h-0.7zM49.0 274.0h0.7v0.7h-0.7zM47.7 273.2h0.7v0.7h-0.7zM61.6 269.2h0.7v0.7h-0.7zM62.2 270.2h0.7v0.7h-0.7zM52.0 271.8h0.7v0.7h-0.7zM55.1 270.5h0.7v0.7h-0.7zM54.3 269.5h0.7v0.7h-0.7zM64.5 270.1h0.7v0.7h-0.7zM53.5 269.6h0.7v0.7h-0.7zM57.9 271.8h0.7v0.7h-0.7zM59.7 269.8h0.7v0.7h-0.7zM46.6 274.2h0.7v0.7h-0.7z" fill="#4848b8" opacity="0.5"/>
<path d="M54.9 272.6h0.7v0.7h-0.7zM60.6 268.7h0.7v0.7h-0.7zM59.8 271.8h0.7v0.7h-0.7zM61.5 269.0h0.7v0.7h-0.7zM52.3 273.0h0.7v0.7h-0.7zM62.1 270.9h0.7v0.7h-0.7zM56.7 273.6h0.7v0.7h-0.7zM61.8 268.7h0.7v0.7h-0.7zM55.9 271.7h0.7v0.7h-0.7zM58.5 270.4h0.7v0.7h-0.7zM56.7 270.3h0.7v0.7h-0.7zM50.4 269.8h0.7v0.7h-0.7zM56.5 270.0h0.7v0.7h-0.7zM55.2 270.4h0.7v0.7h-0.7zM56.9 271.2h0.7v0.7h-0.7zM56.5 273.0h0.7v0.7h-0.7zM53.7 271.3h0.7v0.7h-0.7zM60.0 273.6h0.7v0.7h-0.7zM55.2 269.7h0.7v0.7h-0.7zM58.9 272.5h0.7v0.7h-0.7zM55.1 270.9h0.7v0.7h-0.7zM60.4 272.6h0.7v0.7h-0.7zM55.6 269.9h0.7v0.7h-0.7zM57.0 269.8h0.7v0.7h-0.7z" fill="#b8b070" opacity="0.5"/>
<path d="M61.3 287.3h0.6v0.6h-0.6zM53.3 300.0h0.6v0.6h-0.6zM48.7 293.7h0.6v0.6h-0.6zM48.9 293.6h0.6v0.6h-0.6zM64.0 287.7h0.6v0.6h-0.6zM57.2 299.4h0.6v0.6h-0.6zM62.8 290.7h0.6v0.6h-0.6z" fill="#8a8ad8" opacity="0.4"/>
<rect x="106.40" y="251.20" width="61.20" height="60.70" fill="none" stroke="#747474" stroke-width="0.95"/>
<text x="107.00" y="246.10" font-size="8.1" fill="#111" stroke="#111" textLength="43.00" lengthAdjust="spacingAndGlyphs">specificity ctr</text>
<rect x="106.90" y="260.00" width="32.00" height="22.80" fill="none" stroke="#8a8a8a" stroke-width="0.75"/>
<rect x="139.60" y="283.70" width="23.20" height="28.20" fill="none" stroke="#8a8a8a" stroke-width="0.75"/>
<text x="113.90" y="258.10" font-size="7.6" fill="#111" stroke="#111" textLength="13.10" lengthAdjust="spacingAndGlyphs">25.5</text>
<text x="150.20" y="281.30" font-size="7.6" fill="#111" stroke="#111" textLength="12.70" lengthAdjust="spacingAndGlyphs">73.9</text>
<ellipse cx="123.7" cy="270.8" rx="11.8" ry="3.7" fill="#9090d8" opacity="0.22" filter="url(#bl)"/>
<ellipse cx="126.8" cy="270.8" rx="5.0" ry="2.2" fill="#7070c8" opacity="0.22" filter="url(#bl)"/>
<path d="M123.9 269.6h0.7v0.7h-0.7zM129.9 271.2h0.7v0.7h-0.7zM122.6 268.9h0.7v0.7h-0.7zM123.8 267.6h0.7v0.7h-0.7zM117.0 269.2h0.7v0.7h-0.7zM120.8 270.9h0.7v0.7h-0.7zM118.6 270.2h0.7v0.7h-0.7zM125.3 270.5h0.7v0.7h-0.7zM124.4 269.5h0.7v0.7h-0.7zM124.7 270.4h0.7v0.7h-0.7zM136.3 267.4h0.7v0.7h-0.7zM111.3 270.8h0.7v0.7h-0.7zM118.6 272.1h0.7v0.7h-0.7zM134.1 268.7h0.7v0.7h-0.7zM132.2 271.2h0.7v0.7h-0.7zM128.5 273.6h0.7v0.7h-0.7zM129.2 270.8h0.7v0.7h-0.7zM132.2 269.6h0.7v0.7h-0.7zM132.5 271.8h0.7v0.7h-0.7zM129.7 270.7h0.7v0.7h-0.7zM133.2 276.2h0.7v0.7h-0.7zM130.6 274.7h0.7v0.7h-0.7zM131.6 269.4h0.7v0.7h-0.7zM128.7 271.2h0.7v0.7h-0.7zM122.5 269.9h0.7v0.7h-0.7zM133.5 273.6h0.7v0.7h-0.7zM126.5 268.7h0.7v0.7h-0.7zM131.5 267.1h0.7v0.7h-0.7zM128.8 275.3h0.7v0.7h-0.7zM122.2 272.6h0.7v0.7h-0.7zM129.0 270.6h0.7v0.7h-0.7zM123.7 270.2h0.7v0.7h-0.7zM130.5 271.3h0.7v0.7h-0.7zM123.2 266.1h0.7v0.7h-0.7zM125.3 272.5h0.7v0.7h-0.7zM124.1 272.0h0.7v0.7h-0.7zM128.4 266.9h0.7v0.7h-0.7zM126.6 264.5h0.7v0.7h-0.7zM123.1 275.1h0.7v0.7h-0.7zM124.4 269.2h0.7v0.7h-0.7zM135.5 272.7h0.7v0.7h-0.7zM135.2 268.5h0.7v0.7h-0.7zM114.7 267.9h0.7v0.7h-0.7zM123.3 272.8h0.7v0.7h-0.7zM111.6 271.8h0.7v0.7h-0.7zM128.3 271.9h0.7v0.7h-0.7zM124.6 269.0h0.7v0.7h-0.7zM114.1 271.9h0.7v0.7h-0.7zM130.1 274.4h0.7v0.7h-0.7zM126.3 271.0h0.7v0.7h-0.7zM126.5 273.1h0.7v0.7h-0.7zM121.8 273.4h0.7v0.7h-0.7zM125.4 273.8h0.7v0.7h-0.7zM124.7 270.0h0.7v0.7h-0.7zM119.8 268.9h0.7v0.7h-0.7zM129.3 267.7h0.7v0.7h-0.7zM122.8 270.5h0.7v0.7h-0.7zM130.6 273.0h0.7v0.7h-0.7zM122.4 267.8h0.7v0.7h-0.7zM127.1 272.2h0.7v0.7h-0.7zM130.9 271.0h0.7v0.7h-0.7zM131.7 271.7h0.7v0.7h-0.7zM128.2 273.1h0.7v0.7h-0.7zM125.8 272.0h0.7v0.7h-0.7zM123.2 270.7h0.7v0.7h-0.7zM122.6 272.8h0.7v0.7h-0.7zM134.7 276.1h0.7v0.7h-0.7zM130.7 269.7h0.7v0.7h-0.7zM125.9 270.9h0.7v0.7h-0.7zM127.5 272.7h0.7v0.7h-0.7zM126.5 269.6h0.7v0.7h-0.7zM122.3 271.8h0.7v0.7h-0.7zM130.7 269.7h0.7v0.7h-0.7zM124.4 268.5h0.7v0.7h-0.7zM118.2 270.4h0.7v0.7h-0.7zM124.5 271.1h0.7v0.7h-0.7zM112.6 273.0h0.7v0.7h-0.7zM114.9 271.9h0.7v0.7h-0.7zM127.3 273.1h0.7v0.7h-0.7zM121.5 268.3h0.7v0.7h-0.7zM127.9 270.0h0.7v0.7h-0.7zM130.1 271.2h0.7v0.7h-0.7zM127.6 270.0h0.7v0.7h-0.7zM132.1 269.5h0.7v0.7h-0.7zM132.8 271.1h0.7v0.7h-0.7zM125.6 274.0h0.7v0.7h-0.7zM125.4 273.0h0.7v0.7h-0.7zM112.0 276.7h0.7v0.7h-0.7zM124.9 272.5h0.7v0.7h-0.7zM125.7 271.4h0.7v0.7h-0.7zM128.6 272.3h0.7v0.7h-0.7zM125.2 270.7h0.7v0.7h-0.7zM127.5 270.2h0.7v0.7h-0.7zM126.0 270.1h0.7v0.7h-0.7zM129.4 268.4h0.7v0.7h-0.7zM128.8 271.6h0.7v0.7h-0.7zM125.9 270.6h0.7v0.7h-0.7zM127.9 272.5h0.7v0.7h-0.7zM127.3 270.6h0.7v0.7h-0.7zM128.0 268.6h0.7v0.7h-0.7zM130.0 273.8h0.7v0.7h-0.7zM125.6 270.2h0.7v0.7h-0.7zM128.5 271.6h0.7v0.7h-0.7zM133.8 271.9h0.7v0.7h-0.7zM136.9 271.9h0.7v0.7h-0.7zM120.9 269.3h0.7v0.7h-0.7zM128.2 277.3h0.7v0.7h-0.7zM123.7 270.5h0.7v0.7h-0.7zM119.3 269.3h0.7v0.7h-0.7zM123.7 269.5h0.7v0.7h-0.7zM130.7 267.2h0.7v0.7h-0.7zM130.1 266.2h0.7v0.7h-0.7zM130.9 270.3h0.7v0.7h-0.7zM128.1 267.7h0.7v0.7h-0.7zM133.5 269.3h0.7v0.7h-0.7zM128.1 267.7h0.7v0.7h-0.7zM120.0 271.5h0.7v0.7h-0.7zM129.9 269.0h0.7v0.7h-0.7zM126.2 270.8h0.7v0.7h-0.7zM114.6 271.3h0.7v0.7h-0.7zM125.6 271.8h0.7v0.7h-0.7zM125.9 270.9h0.7v0.7h-0.7zM124.3 270.5h0.7v0.7h-0.7zM137.5 272.2h0.7v0.7h-0.7zM125.8 271.7h0.7v0.7h-0.7zM123.8 274.1h0.7v0.7h-0.7zM130.8 270.2h0.7v0.7h-0.7zM123.7 268.4h0.7v0.7h-0.7zM124.1 269.5h0.7v0.7h-0.7zM126.6 270.5h0.7v0.7h-0.7zM121.3 271.7h0.7v0.7h-0.7zM122.9 270.0h0.7v0.7h-0.7zM134.9 271.0h0.7v0.7h-0.7zM122.9 269.6h0.7v0.7h-0.7zM127.9 274.3h0.7v0.7h-0.7zM123.6 275.9h0.7v0.7h-0.7zM130.0 270.5h0.7v0.7h-0.7zM128.8 269.0h0.7v0.7h-0.7zM126.4 271.3h0.7v0.7h-0.7zM124.2 268.0h0.7v0.7h-0.7zM129.9 269.5h0.7v0.7h-0.7zM112.8 273.4h0.7v0.7h-0.7zM120.1 273.8h0.7v0.7h-0.7zM113.7 266.9h0.7v0.7h-0.7zM130.5 269.7h0.7v0.7h-0.7zM129.3 273.0h0.7v0.7h-0.7zM128.9 268.8h0.7v0.7h-0.7zM120.6 274.6h0.7v0.7h-0.7zM118.4 264.1h0.7v0.7h-0.7zM134.1 269.9h0.7v0.7h-0.7zM107.7 275.1h0.7v0.7h-0.7zM123.7 270.8h0.7v0.7h-0.7zM126.4 269.9h0.7v0.7h-0.7zM125.6 270.3h0.7v0.7h-0.7zM126.0 267.7h0.7v0.7h-0.7zM127.4 272.0h0.7v0.7h-0.7zM120.2 269.3h0.7v0.7h-0.7zM126.4 270.2h0.7v0.7h-0.7zM127.6 273.2h0.7v0.7h-0.7zM120.7 273.9h0.7v0.7h-0.7zM112.8 273.2h0.7v0.7h-0.7zM129.9 270.2h0.7v0.7h-0.7zM131.1 268.0h0.7v0.7h-0.7zM128.1 272.5h0.7v0.7h-0.7zM127.9 267.7h0.7v0.7h-0.7zM127.0 275.6h0.7v0.7h-0.7zM122.3 269.8h0.7v0.7h-0.7zM125.5 271.6h0.7v0.7h-0.7zM122.0 271.6h0.7v0.7h-0.7zM114.0 275.7h0.7v0.7h-0.7zM125.4 267.6h0.7v0.7h-0.7zM126.8 271.2h0.7v0.7h-0.7zM133.3 271.0h0.7v0.7h-0.7zM111.3 271.2h0.7v0.7h-0.7zM127.7 272.4h0.7v0.7h-0.7zM122.8 267.9h0.7v0.7h-0.7zM127.5 276.0h0.7v0.7h-0.7zM121.5 269.6h0.7v0.7h-0.7zM122.8 270.0h0.7v0.7h-0.7zM127.3 274.9h0.7v0.7h-0.7zM127.2 271.1h0.7v0.7h-0.7zM125.6 269.9h0.7v0.7h-0.7zM127.9 273.8h0.7v0.7h-0.7zM130.1 270.3h0.7v0.7h-0.7zM131.7 271.3h0.7v0.7h-0.7zM130.9 271.5h0.7v0.7h-0.7zM124.7 268.8h0.7v0.7h-0.7zM131.5 272.4h0.7v0.7h-0.7zM126.4 272.3h0.7v0.7h-0.7zM119.2 267.8h0.7v0.7h-0.7zM128.3 271.2h0.7v0.7h-0.7zM123.4 271.3h0.7v0.7h-0.7zM121.3 265.5h0.7v0.7h-0.7zM122.5 270.1h0.7v0.7h-0.7zM107.8 273.4h0.7v0.7h-0.7zM126.1 272.1h0.7v0.7h-0.7zM125.8 272.3h0.7v0.7h-0.7z" fill="#8888d6" opacity="0.5"/>
<path d="M131.1 270.6h0.7v0.7h-0.7zM135.5 273.7h0.7v0.7h-0.7zM123.6 273.0h0.7v0.7h-0.7zM126.7 270.2h0.7v0.7h-0.7zM119.4 272.5h0.7v0.7h-0.7zM121.4 273.4h0.7v0.7h-0.7zM122.9 273.4h0.7v0.7h-0.7zM127.4 268.9h0.7v0.7h-0.7zM114.9 271.5h0.7v0.7h-0.7zM124.3 270.8h0.7v0.7h-0.7zM122.6 274.9h0.7v0.7h-0.7zM121.9 269.8h0.7v0.7h-0.7zM129.3 270.8h0.7v0.7h-0.7zM122.3 273.5h0.7v0.7h-0.7zM129.8 271.7h0.7v0.7h-0.7zM122.9 271.6h0.7v0.7h-0.7zM126.1 271.2h0.7v0.7h-0.7zM132.4 271.6h0.7v0.7h-0.7zM121.4 271.8h0.7v0.7h-0.7zM119.3 269.2h0.7v0.7h-0.7zM119.6 271.4h0.7v0.7h-0.7zM120.9 273.4h0.7v0.7h-0.7zM131.8 271.7h0.7v0.7h-0.7zM126.8 272.5h0.7v0.7h-0.7zM122.2 267.5h0.7v0.7h-0.7zM126.4 267.0h0.7v0.7h-0.7zM131.4 268.6h0.7v0.7h-0.7zM126.1 272.1h0.7v0.7h-0.7zM125.3 270.6h0.7v0.7h-0.7zM128.1 272.2h0.7v0.7h-0.7zM125.1 270.6h0.7v0.7h-0.7zM114.8 275.3h0.7v0.7h-0.7zM128.0 272.2h0.7v0.7h-0.7zM123.4 270.9h0.7v0.7h-0.7zM128.1 268.9h0.7v0.7h-0.7zM123.0 269.6h0.7v0.7h-0.7zM126.1 273.5h0.7v0.7h-0.7zM130.5 269.3h0.7v0.7h-0.7zM130.6 274.6h0.7v0.7h-0.7zM121.6 265.9h0.7v0.7h-0.7zM126.9 269.5h0.7v0.7h-0.7zM124.2 268.7h0.7v0.7h-0.7zM123.9 269.8h0.7v0.7h-0.7zM131.8 270.5h0.7v0.7h-0.7zM120.1 271.4h0.7v0.7h-0.7zM132.0 273.1h0.7v0.7h-0.7zM131.1 274.6h0.7v0.7h-0.7zM117.6 267.4h0.7v0.7h-0.7zM126.6 271.2h0.7v0.7h-0.7zM131.5 274.2h0.7v0.7h-0.7zM121.1 271.6h0.7v0.7h-0.7zM131.0 271.2h0.7v0.7h-0.7zM125.0 270.9h0.7v0.7h-0.7zM121.1 271.1h0.7v0.7h-0.7zM116.8 270.4h0.7v0.7h-0.7zM126.4 269.1h0.7v0.7h-0.7zM132.8 267.9h0.7v0.7h-0.7zM122.6 269.5h0.7v0.7h-0.7zM111.2 268.8h0.7v0.7h-0.7zM129.8 272.2h0.7v0.7h-0.7zM123.0 270.9h0.7v0.7h-0.7zM132.8 271.8h0.7v0.7h-0.7zM129.8 268.0h0.7v0.7h-0.7zM125.3 268.0h0.7v0.7h-0.7zM127.9 271.7h0.7v0.7h-0.7z" fill="#4848b8" opacity="0.5"/>
<path d="M129.2 270.9h0.7v0.7h-0.7zM110.8 269.4h0.7v0.7h-0.7zM119.9 269.7h0.7v0.7h-0.7zM129.3 270.8h0.7v0.7h-0.7zM118.9 269.2h0.7v0.7h-0.7zM125.4 269.4h0.7v0.7h-0.7zM110.1 271.6h0.7v0.7h-0.7zM113.1 270.1h0.7v0.7h-0.7zM124.2 268.7h0.7v0.7h-0.7zM127.4 272.9h0.7v0.7h-0.7zM126.8 274.2h0.7v0.7h-0.7zM126.2 272.3h0.7v0.7h-0.7zM121.4 267.6h0.7v0.7h-0.7zM133.9 268.2h0.7v0.7h-0.7zM124.6 270.2h0.7v0.7h-0.7zM129.6 268.1h0.7v0.7h-0.7zM120.3 272.1h0.7v0.7h-0.7zM129.3 271.8h0.7v0.7h-0.7zM131.1 269.7h0.7v0.7h-0.7zM126.0 272.9h0.7v0.7h-0.7zM124.0 268.2h0.7v0.7h-0.7zM126.6 271.4h0.7v0.7h-0.7zM130.3 271.5h0.7v0.7h-0.7zM117.1 270.4h0.7v0.7h-0.7zM126.8 276.3h0.7v0.7h-0.7zM123.7 272.6h0.7v0.7h-0.7zM115.8 269.3h0.7v0.7h-0.7zM129.3 268.6h0.7v0.7h-0.7zM129.2 270.9h0.7v0.7h-0.7zM133.8 271.8h0.7v0.7h-0.7zM127.5 268.7h0.7v0.7h-0.7zM123.4 269.2h0.7v0.7h-0.7zM120.3 270.0h0.7v0.7h-0.7z" fill="#b8b070" opacity="0.5"/>
<path d="M130.7 305.3h0.6v0.6h-0.6zM136.3 303.3h0.6v0.6h-0.6zM119.0 291.2h0.6v0.6h-0.6zM122.3 285.7h0.6v0.6h-0.6zM117.9 306.5h0.6v0.6h-0.6zM134.5 293.1h0.6v0.6h-0.6zM130.9 303.8h0.6v0.6h-0.6zM133.8 304.3h0.6v0.6h-0.6zM125.2 287.7h0.6v0.6h-0.6zM132.2 292.7h0.6v0.6h-0.6zM127.4 294.0h0.6v0.6h-0.6zM125.3 308.4h0.6v0.6h-0.6zM116.3 297.9h0.6v0.6h-0.6zM128.0 298.1h0.6v0.6h-0.6zM134.9 295.0h0.6v0.6h-0.6zM134.3 301.8h0.6v0.6h-0.6z" fill="#8a8ad8" opacity="0.4"/>
<path d="M153.8 290.5h0.7v0.7h-0.7zM151.7 295.0h0.7v0.7h-0.7zM150.3 299.0h0.7v0.7h-0.7zM151.7 307.6h0.7v0.7h-0.7zM152.5 298.5h0.7v0.7h-0.7zM152.9 289.0h0.7v0.7h-0.7zM153.3 300.2h0.7v0.7h-0.7zM156.0 304.7h0.7v0.7h-0.7zM153.0 295.2h0.7v0.7h-0.7zM151.9 294.8h0.7v0.7h-0.7zM156.7 294.1h0.7v0.7h-0.7zM152.6 299.2h0.7v0.7h-0.7zM154.3 299.2h0.7v0.7h-0.7zM150.5 307.2h0.7v0.7h-0.7zM152.2 303.9h0.7v0.7h-0.7zM152.2 293.9h0.7v0.7h-0.7zM150.5 301.2h0.7v0.7h-0.7zM152.2 299.3h0.7v0.7h-0.7zM153.7 289.1h0.7v0.7h-0.7zM147.4 297.5h0.7v0.7h-0.7zM151.5 308.3h0.7v0.7h-0.7zM153.9 293.1h0.7v0.7h-0.7zM151.4 299.0h0.7v0.7h-0.7zM152.0 290.8h0.7v0.7h-0.7zM151.2 296.5h0.7v0.7h-0.7zM148.9 298.7h0.7v0.7h-0.7zM148.5 307.7h0.7v0.7h-0.7zM154.8 297.3h0.7v0.7h-0.7zM146.8 302.4h0.7v0.7h-0.7zM152.1 300.9h0.7v0.7h-0.7zM154.2 300.7h0.7v0.7h-0.7zM146.5 304.1h0.7v0.7h-0.7zM149.9 294.5h0.7v0.7h-0.7zM154.8 295.0h0.7v0.7h-0.7zM150.4 302.4h0.7v0.7h-0.7zM153.3 290.0h0.7v0.7h-0.7zM148.5 295.6h0.7v0.7h-0.7zM150.1 295.6h0.7v0.7h-0.7zM149.4 306.3h0.7v0.7h-0.7zM152.9 297.4h0.7v0.7h-0.7zM156.4 294.8h0.7v0.7h-0.7zM152.8 289.6h0.7v0.7h-0.7zM149.3 299.4h0.7v0.7h-0.7zM150.9 294.5h0.7v0.7h-0.7zM153.0 294.0h0.7v0.7h-0.7zM149.9 301.1h0.7v0.7h-0.7zM154.1 289.7h0.7v0.7h-0.7zM148.6 303.0h0.7v0.7h-0.7zM152.9 287.8h0.7v0.7h-0.7zM151.6 294.9h0.7v0.7h-0.7zM154.4 289.5h0.7v0.7h-0.7zM149.9 297.2h0.7v0.7h-0.7zM152.5 295.5h0.7v0.7h-0.7zM147.8 303.4h0.7v0.7h-0.7zM150.2 291.9h0.7v0.7h-0.7zM153.5 289.7h0.7v0.7h-0.7zM149.3 302.5h0.7v0.7h-0.7zM149.1 291.2h0.7v0.7h-0.7zM148.7 302.4h0.7v0.7h-0.7zM154.3 289.0h0.7v0.7h-0.7zM153.9 295.5h0.7v0.7h-0.7zM151.5 297.1h0.7v0.7h-0.7zM152.0 288.2h0.7v0.7h-0.7zM155.3 300.0h0.7v0.7h-0.7zM150.0 291.6h0.7v0.7h-0.7zM147.7 295.6h0.7v0.7h-0.7zM149.8 298.8h0.7v0.7h-0.7zM154.6 298.8h0.7v0.7h-0.7zM146.7 299.7h0.7v0.7h-0.7zM151.4 301.7h0.7v0.7h-0.7zM152.4 296.0h0.7v0.7h-0.7zM154.4 297.6h0.7v0.7h-0.7zM154.7 294.5h0.7v0.7h-0.7zM148.5 295.1h0.7v0.7h-0.7zM154.6 289.2h0.7v0.7h-0.7zM147.1 305.3h0.7v0.7h-0.7zM152.6 297.1h0.7v0.7h-0.7zM144.2 302.5h0.7v0.7h-0.7zM151.0 291.9h0.7v0.7h-0.7zM151.1 303.4h0.7v0.7h-0.7zM153.1 291.5h0.7v0.7h-0.7zM152.9 298.1h0.7v0.7h-0.7zM151.5 299.7h0.7v0.7h-0.7zM154.8 293.7h0.7v0.7h-0.7zM149.6 299.2h0.7v0.7h-0.7zM154.4 294.9h0.7v0.7h-0.7zM151.1 296.2h0.7v0.7h-0.7zM151.3 299.8h0.7v0.7h-0.7zM152.8 296.2h0.7v0.7h-0.7zM150.2 295.9h0.7v0.7h-0.7zM152.0 291.7h0.7v0.7h-0.7zM151.3 291.5h0.7v0.7h-0.7zM154.0 290.0h0.7v0.7h-0.7zM149.7 300.9h0.7v0.7h-0.7zM154.1 299.2h0.7v0.7h-0.7zM148.8 301.0h0.7v0.7h-0.7zM147.5 299.6h0.7v0.7h-0.7zM149.9 295.0h0.7v0.7h-0.7zM153.7 294.6h0.7v0.7h-0.7zM153.0 297.0h0.7v0.7h-0.7zM150.4 295.0h0.7v0.7h-0.7zM150.3 298.6h0.7v0.7h-0.7zM149.8 298.1h0.7v0.7h-0.7zM151.8 297.5h0.7v0.7h-0.7zM153.5 292.0h0.7v0.7h-0.7zM150.2 299.3h0.7v0.7h-0.7zM149.7 292.9h0.7v0.7h-0.7zM150.6 301.7h0.7v0.7h-0.7z" fill="#4a58c8" opacity="0.45"/>
<path d="M148.8 302.3h0.7v0.7h-0.7zM153.8 299.8h0.7v0.7h-0.7zM152.2 309.9h0.7v0.7h-0.7zM152.3 290.3h0.7v0.7h-0.7zM153.2 295.7h0.7v0.7h-0.7zM147.9 296.4h0.7v0.7h-0.7zM148.1 302.1h0.7v0.7h-0.7zM154.1 301.0h0.7v0.7h-0.7zM156.0 298.9h0.7v0.7h-0.7zM152.4 291.3h0.7v0.7h-0.7zM151.1 291.3h0.7v0.7h-0.7zM149.1 302.8h0.7v0.7h-0.7zM153.7 296.3h0.7v0.7h-0.7zM151.1 291.7h0.7v0.7h-0.7zM149.8 299.0h0.7v0.7h-0.7zM152.2 296.5h0.7v0.7h-0.7zM151.8 301.8h0.7v0.7h-0.7zM154.7 296.5h0.7v0.7h-0.7zM150.5 298.0h0.7v0.7h-0.7zM152.2 288.4h0.7v0.7h-0.7zM150.2 301.7h0.7v0.7h-0.7zM150.0 307.7h0.7v0.7h-0.7zM151.1 299.9h0.7v0.7h-0.7zM148.5 297.1h0.7v0.7h-0.7zM148.4 303.3h0.7v0.7h-0.7zM153.8 290.9h0.7v0.7h-0.7zM148.7 304.4h0.7v0.7h-0.7zM156.0 301.0h0.7v0.7h-0.7zM153.5 289.7h0.7v0.7h-0.7zM147.2 295.3h0.7v0.7h-0.7zM153.7 293.1h0.7v0.7h-0.7zM152.1 295.3h0.7v0.7h-0.7zM153.8 297.4h0.7v0.7h-0.7zM152.2 301.3h0.7v0.7h-0.7zM153.9 288.2h0.7v0.7h-0.7zM148.2 302.1h0.7v0.7h-0.7zM148.7 300.7h0.7v0.7h-0.7zM150.4 300.8h0.7v0.7h-0.7zM151.0 304.5h0.7v0.7h-0.7zM154.9 304.3h0.7v0.7h-0.7zM153.1 299.4h0.7v0.7h-0.7zM156.8 301.7h0.7v0.7h-0.7zM148.5 290.8h0.7v0.7h-0.7zM151.5 293.8h0.7v0.7h-0.7zM144.9 293.5h0.7v0.7h-0.7zM155.6 289.9h0.7v0.7h-0.7zM151.2 301.6h0.7v0.7h-0.7zM153.6 300.3h0.7v0.7h-0.7zM152.7 299.2h0.7v0.7h-0.7zM146.9 296.7h0.7v0.7h-0.7zM148.9 295.2h0.7v0.7h-0.7zM153.4 294.8h0.7v0.7h-0.7zM153.7 295.4h0.7v0.7h-0.7zM153.0 295.2h0.7v0.7h-0.7zM147.3 301.2h0.7v0.7h-0.7zM149.0 308.2h0.7v0.7h-0.7zM150.6 297.3h0.7v0.7h-0.7zM155.3 291.7h0.7v0.7h-0.7zM153.0 299.0h0.7v0.7h-0.7zM154.9 294.2h0.7v0.7h-0.7zM152.6 305.5h0.7v0.7h-0.7zM151.9 297.8h0.7v0.7h-0.7zM151.4 290.1h0.7v0.7h-0.7zM152.8 288.0h0.7v0.7h-0.7zM154.8 296.1h0.7v0.7h-0.7zM151.7 298.6h0.7v0.7h-0.7zM151.9 297.2h0.7v0.7h-0.7zM150.0 297.8h0.7v0.7h-0.7zM151.6 305.6h0.7v0.7h-0.7zM154.4 296.7h0.7v0.7h-0.7zM152.8 295.2h0.7v0.7h-0.7zM152.6 300.6h0.7v0.7h-0.7zM154.5 296.7h0.7v0.7h-0.7zM149.9 297.9h0.7v0.7h-0.7zM148.3 289.5h0.7v0.7h-0.7zM147.8 295.9h0.7v0.7h-0.7zM151.0 299.7h0.7v0.7h-0.7zM144.5 296.1h0.7v0.7h-0.7zM152.2 297.4h0.7v0.7h-0.7zM153.6 289.7h0.7v0.7h-0.7zM149.7 298.4h0.7v0.7h-0.7zM155.0 302.7h0.7v0.7h-0.7zM149.5 299.0h0.7v0.7h-0.7zM149.9 300.7h0.7v0.7h-0.7zM148.2 305.6h0.7v0.7h-0.7zM149.8 299.7h0.7v0.7h-0.7zM153.0 289.2h0.7v0.7h-0.7zM149.4 297.1h0.7v0.7h-0.7zM144.0 296.8h0.7v0.7h-0.7zM147.4 299.0h0.7v0.7h-0.7zM152.6 289.7h0.7v0.7h-0.7zM149.4 294.5h0.7v0.7h-0.7zM146.4 304.0h0.7v0.7h-0.7zM154.5 293.8h0.7v0.7h-0.7zM150.2 307.1h0.7v0.7h-0.7zM150.3 301.1h0.7v0.7h-0.7zM150.2 299.4h0.7v0.7h-0.7zM155.0 302.3h0.7v0.7h-0.7zM149.6 293.4h0.7v0.7h-0.7zM145.7 306.9h0.7v0.7h-0.7zM150.4 298.2h0.7v0.7h-0.7zM153.6 292.5h0.7v0.7h-0.7zM154.0 294.8h0.7v0.7h-0.7zM150.4 298.9h0.7v0.7h-0.7zM149.4 305.8h0.7v0.7h-0.7zM150.3 302.8h0.7v0.7h-0.7zM153.5 298.7h0.7v0.7h-0.7zM143.3 300.3h0.7v0.7h-0.7zM153.0 298.0h0.7v0.7h-0.7zM152.6 302.9h0.7v0.7h-0.7zM153.3 290.9h0.7v0.7h-0.7zM143.2 307.5h0.7v0.7h-0.7zM156.3 288.3h0.7v0.7h-0.7zM150.8 289.8h0.7v0.7h-0.7zM152.1 288.7h0.7v0.7h-0.7zM152.7 300.0h0.7v0.7h-0.7zM153.1 291.8h0.7v0.7h-0.7zM151.5 304.9h0.7v0.7h-0.7zM146.3 301.2h0.7v0.7h-0.7zM153.2 290.4h0.7v0.7h-0.7zM151.0 305.1h0.7v0.7h-0.7zM154.7 301.4h0.7v0.7h-0.7zM153.7 297.0h0.7v0.7h-0.7zM147.4 302.0h0.7v0.7h-0.7zM147.5 300.2h0.7v0.7h-0.7zM151.5 302.6h0.7v0.7h-0.7zM152.7 298.9h0.7v0.7h-0.7zM152.1 297.4h0.7v0.7h-0.7zM152.6 302.5h0.7v0.7h-0.7zM150.9 299.2h0.7v0.7h-0.7zM152.7 289.2h0.7v0.7h-0.7zM149.4 302.3h0.7v0.7h-0.7zM148.7 303.0h0.7v0.7h-0.7zM153.8 299.6h0.7v0.7h-0.7zM149.1 302.8h0.7v0.7h-0.7zM148.7 296.6h0.7v0.7h-0.7z" fill="#6a74d8" opacity="0.42"/>
<path d="M154.7 293.9h0.7v0.7h-0.7zM152.3 288.6h0.7v0.7h-0.7zM149.5 295.9h0.7v0.7h-0.7zM149.7 300.0h0.7v0.7h-0.7zM151.9 304.7h0.7v0.7h-0.7zM151.7 304.5h0.7v0.7h-0.7zM155.0 298.6h0.7v0.7h-0.7zM151.8 302.9h0.7v0.7h-0.7zM150.2 296.2h0.7v0.7h-0.7zM151.8 303.5h0.7v0.7h-0.7zM151.1 297.7h0.7v0.7h-0.7zM152.6 301.9h0.7v0.7h-0.7zM154.0 289.7h0.7v0.7h-0.7zM149.7 298.2h0.7v0.7h-0.7zM153.8 289.4h0.7v0.7h-0.7zM148.1 297.7h0.7v0.7h-0.7zM154.2 292.5h0.7v0.7h-0.7zM150.0 302.5h0.7v0.7h-0.7zM150.6 294.3h0.7v0.7h-0.7zM151.7 292.6h0.7v0.7h-0.7zM151.3 296.9h0.7v0.7h-0.7zM148.4 299.6h0.7v0.7h-0.7zM153.6 297.1h0.7v0.7h-0.7zM152.9 293.5h0.7v0.7h-0.7zM152.3 297.2h0.7v0.7h-0.7zM150.9 298.0h0.7v0.7h-0.7zM151.8 305.0h0.7v0.7h-0.7zM150.6 297.7h0.7v0.7h-0.7zM149.8 304.5h0.7v0.7h-0.7zM149.5 303.0h0.7v0.7h-0.7zM154.4 300.9h0.7v0.7h-0.7zM150.6 298.5h0.7v0.7h-0.7zM148.1 300.6h0.7v0.7h-0.7zM152.2 293.4h0.7v0.7h-0.7zM153.3 297.2h0.7v0.7h-0.7zM148.7 298.2h0.7v0.7h-0.7zM154.3 295.4h0.7v0.7h-0.7zM151.1 304.8h0.7v0.7h-0.7zM150.5 290.6h0.7v0.7h-0.7zM148.6 297.6h0.7v0.7h-0.7zM150.9 294.3h0.7v0.7h-0.7zM154.9 291.0h0.7v0.7h-0.7zM151.5 292.2h0.7v0.7h-0.7zM155.3 289.3h0.7v0.7h-0.7zM153.4 301.6h0.7v0.7h-0.7zM154.2 290.2h0.7v0.7h-0.7zM149.2 304.5h0.7v0.7h-0.7zM152.7 289.7h0.7v0.7h-0.7zM148.1 295.8h0.7v0.7h-0.7zM153.9 300.9h0.7v0.7h-0.7zM147.7 301.4h0.7v0.7h-0.7zM150.9 300.6h0.7v0.7h-0.7zM151.2 301.6h0.7v0.7h-0.7zM152.5 307.1h0.7v0.7h-0.7zM153.3 290.2h0.7v0.7h-0.7zM154.2 299.8h0.7v0.7h-0.7zM150.1 297.7h0.7v0.7h-0.7zM150.9 302.0h0.7v0.7h-0.7zM148.2 306.8h0.7v0.7h-0.7zM149.2 299.6h0.7v0.7h-0.7zM150.0 298.7h0.7v0.7h-0.7zM152.5 294.6h0.7v0.7h-0.7zM147.7 300.6h0.7v0.7h-0.7zM152.7 289.5h0.7v0.7h-0.7zM157.6 292.0h0.7v0.7h-0.7zM150.4 300.7h0.7v0.7h-0.7zM153.5 299.3h0.7v0.7h-0.7zM152.5 304.4h0.7v0.7h-0.7zM153.8 299.1h0.7v0.7h-0.7zM153.6 288.2h0.7v0.7h-0.7zM150.7 304.0h0.7v0.7h-0.7zM149.9 292.0h0.7v0.7h-0.7zM147.2 303.7h0.7v0.7h-0.7zM144.1 295.3h0.7v0.7h-0.7zM152.2 297.8h0.7v0.7h-0.7zM152.3 295.5h0.7v0.7h-0.7zM152.8 295.5h0.7v0.7h-0.7zM154.4 290.0h0.7v0.7h-0.7zM147.6 296.6h0.7v0.7h-0.7zM155.2 290.7h0.7v0.7h-0.7zM149.7 293.4h0.7v0.7h-0.7zM152.1 288.3h0.7v0.7h-0.7zM153.6 296.7h0.7v0.7h-0.7zM149.1 303.6h0.7v0.7h-0.7zM153.8 289.6h0.7v0.7h-0.7zM150.7 290.6h0.7v0.7h-0.7zM149.3 295.9h0.7v0.7h-0.7zM153.8 289.9h0.7v0.7h-0.7zM152.2 290.3h0.7v0.7h-0.7zM152.4 301.3h0.7v0.7h-0.7zM154.1 300.3h0.7v0.7h-0.7zM154.5 293.1h0.7v0.7h-0.7zM153.0 299.7h0.7v0.7h-0.7zM150.2 306.5h0.7v0.7h-0.7zM147.9 302.6h0.7v0.7h-0.7zM155.5 297.8h0.7v0.7h-0.7zM151.8 297.2h0.7v0.7h-0.7zM154.3 299.6h0.7v0.7h-0.7zM147.3 299.0h0.7v0.7h-0.7zM152.8 290.9h0.7v0.7h-0.7zM153.6 289.7h0.7v0.7h-0.7zM148.0 299.7h0.7v0.7h-0.7zM149.5 299.0h0.7v0.7h-0.7zM152.7 290.3h0.7v0.7h-0.7zM152.2 292.6h0.7v0.7h-0.7zM150.7 288.2h0.7v0.7h-0.7zM147.2 293.8h0.7v0.7h-0.7zM151.0 307.3h0.7v0.7h-0.7zM150.7 297.3h0.7v0.7h-0.7zM151.6 301.7h0.7v0.7h-0.7zM153.5 300.1h0.7v0.7h-0.7zM151.6 305.2h0.7v0.7h-0.7zM151.3 302.8h0.7v0.7h-0.7zM152.6 300.1h0.7v0.7h-0.7zM152.7 300.9h0.7v0.7h-0.7z" fill="#8f96e0" opacity="0.45"/>
<g transform="rotate(9 152.2 298.2)">
<ellipse cx="152.2" cy="298.2" rx="3.0" ry="5.9" fill="#5f80cc" opacity="0.45"/>
<ellipse cx="152.29999999999998" cy="298.4" rx="2.3" ry="4.7" fill="#48a676" opacity="0.75"/>
<ellipse cx="152.29999999999998" cy="298.59999999999997" rx="1.7" ry="3.5" fill="#aebe44" opacity="0.9"/>
<ellipse cx="152.29999999999998" cy="298.7" rx="1.1" ry="2.3" fill="#e69a34"/>
<ellipse cx="152.29999999999998" cy="298.8" rx="0.55" ry="1.2" fill="#e06c30"/>
</g>
<text transform="translate(188.80 302.90) rotate(-90)" font-size="8.8" fill="#111" stroke="#111" textLength="123.50" lengthAdjust="spacingAndGlyphs">hCD45<tspan font-size="6.0" dy="-3.3">+</tspan><tspan dy="3.3" font-size="1">&#8203;</tspan>CD33<tspan font-size="6.0" dy="-3.3">+</tspan><tspan dy="3.3" font-size="1">&#8203;</tspan> cells in BM x 10<tspan font-size="6.0" dy="-3.3">4</tspan><tspan dy="3.3" font-size="1">&#8203;</tspan></text>
<line x1="214.10" y1="200.20" x2="214.10" y2="283.15" stroke="#151515" stroke-width="1.5"/>
<line x1="213.35" y1="282.40" x2="333.00" y2="282.40" stroke="#151515" stroke-width="1.5"/>
<line x1="210.80" y1="203.20" x2="214.10" y2="203.20" stroke="#151515" stroke-width="1.0"/>
<text x="196.50" y="205.90" font-size="7.8" fill="#111" stroke="#111" textLength="11.30" lengthAdjust="spacingAndGlyphs">100</text>
<line x1="210.80" y1="239.30" x2="214.10" y2="239.30" stroke="#151515" stroke-width="1.0"/>
<text x="200.20" y="242.00" font-size="7.8" fill="#111" stroke="#111" textLength="7.60" lengthAdjust="spacingAndGlyphs">50</text>
<line x1="210.80" y1="275.20" x2="214.10" y2="275.20" stroke="#151515" stroke-width="1.0"/>
<text x="203.90" y="277.90" font-size="7.8" fill="#111" stroke="#111" textLength="3.90" lengthAdjust="spacingAndGlyphs">0</text>
<line x1="227.10" y1="184.50" x2="318.50" y2="184.50" stroke="#2a2a2a" stroke-width="1.15"/>
<text x="272.40" y="184.70" font-size="8" fill="#222" stroke="#222" text-anchor="middle" style="stroke-width:0.45px">**</text>
<line x1="257.30" y1="193.60" x2="318.50" y2="193.60" stroke="#2a2a2a" stroke-width="1.15"/>
<text x="287.60" y="193.80" font-size="8" fill="#222" stroke="#222" text-anchor="middle" style="stroke-width:0.45px">**</text>
<line x1="287.60" y1="203.20" x2="318.50" y2="203.20" stroke="#2a2a2a" stroke-width="1.15"/>
<text x="302.70" y="203.40" font-size="8" fill="#222" stroke="#222" text-anchor="middle" style="stroke-width:0.45px">**</text>
<circle cx="220.60" cy="275.20" r="1.8" fill="#a3122f"/>
<circle cx="223.96" cy="275.20" r="1.8" fill="#a3122f"/>
<circle cx="227.32" cy="275.20" r="1.8" fill="#a3122f"/>
<circle cx="230.68" cy="275.20" r="1.8" fill="#a3122f"/>
<circle cx="234.04" cy="275.20" r="1.8" fill="#a3122f"/>
<circle cx="237.40" cy="275.20" r="1.8" fill="#a3122f"/>
<line x1="219.10" y1="275.20" x2="238.90" y2="275.20" stroke="#111" stroke-width="1.5"/>
<circle cx="250.50" cy="275.20" r="1.8" fill="#e0931c"/>
<circle cx="253.86" cy="275.20" r="1.8" fill="#e0931c"/>
<circle cx="257.22" cy="275.20" r="1.8" fill="#e0931c"/>
<circle cx="260.58" cy="275.20" r="1.8" fill="#e0931c"/>
<circle cx="263.94" cy="275.20" r="1.8" fill="#e0931c"/>
<circle cx="267.30" cy="275.20" r="1.8" fill="#e0931c"/>
<line x1="249.00" y1="275.20" x2="268.80" y2="275.20" stroke="#111" stroke-width="1.5"/>
<circle cx="279.60" cy="275.20" r="1.8" fill="#1f3a78"/>
<circle cx="282.96" cy="275.20" r="1.8" fill="#1f3a78"/>
<circle cx="286.32" cy="275.20" r="1.8" fill="#1f3a78"/>
<circle cx="289.68" cy="275.20" r="1.8" fill="#1f3a78"/>
<circle cx="293.04" cy="275.20" r="1.8" fill="#1f3a78"/>
<circle cx="296.40" cy="275.20" r="1.8" fill="#1f3a78"/>
<line x1="278.10" y1="275.20" x2="297.90" y2="275.20" stroke="#111" stroke-width="1.5"/>
<circle cx="317.80" cy="209.70" r="1.6" fill="#fff" stroke="#c4c4c4" stroke-width="0.7"/>
<circle cx="315.40" cy="228.00" r="1.6" fill="#fff" stroke="#c4c4c4" stroke-width="0.7"/>
<circle cx="319.90" cy="232.20" r="1.6" fill="#fff" stroke="#c4c4c4" stroke-width="0.7"/>
<circle cx="317.80" cy="254.80" r="1.6" fill="#fff" stroke="#c4c4c4" stroke-width="0.7"/>
<line x1="308.40" y1="230.90" x2="327.20" y2="230.90" stroke="#111" stroke-width="1.4"/>
<line x1="317.80" y1="212.80" x2="317.80" y2="249.00" stroke="#111" stroke-width="1.1"/>
<line x1="312.80" y1="212.80" x2="322.80" y2="212.80" stroke="#111" stroke-width="1.1"/>
<line x1="312.80" y1="249.00" x2="322.80" y2="249.00" stroke="#111" stroke-width="1.1"/>
<text transform="translate(231.90 287.80) rotate(-45)" x="-15.80" y="0" font-size="7.2" fill="#111" stroke="#111" textLength="15.80" lengthAdjust="spacingAndGlyphs">CiTE</text>
<text transform="translate(260.30 287.20) rotate(-45)" x="-14.80" y="0" font-size="7.2" fill="#111" stroke="#111" textLength="14.80" lengthAdjust="spacingAndGlyphs">sctb</text>
<text transform="translate(288.60 286.80) rotate(-45)" x="-29.40" y="0" font-size="7.2" fill="#111" stroke="#111" textLength="29.40" lengthAdjust="spacingAndGlyphs">BiTE-like</text>
<text transform="translate(322.90 287.70) rotate(-45)" x="-44.40" y="0" font-size="7.3" fill="#111" stroke="#111" textLength="44.40" lengthAdjust="spacingAndGlyphs">specificity ctr</text>
<text x="7.30" y="355.90" font-size="11.9" fill="#111" stroke="#111" textLength="6.80" lengthAdjust="spacingAndGlyphs">C</text>
<text transform="translate(28.50 490.60) rotate(-90)" font-size="8.6" fill="#111" stroke="#111" textLength="144.30" lengthAdjust="spacingAndGlyphs">% PD-1<tspan font-size="6.0" dy="-3.3">+</tspan><tspan dy="3.3" font-size="1">&#8203;</tspan> of hCD45<tspan font-size="6.0" dy="-3.3">+</tspan><tspan dy="3.3" font-size="1">&#8203;</tspan>CD3<tspan font-size="6.0" dy="-3.3">+</tspan><tspan dy="3.3" font-size="1">&#8203;</tspan>CD4<tspan font-size="6.0" dy="-3.3">+</tspan><tspan dy="3.3" font-size="1">&#8203;</tspan> in BM</text>
<line x1="53.70" y1="379.20" x2="53.70" y2="458.85" stroke="#151515" stroke-width="1.5"/>
<line x1="52.95" y1="458.10" x2="168.30" y2="458.10" stroke="#151515" stroke-width="1.5"/>
<line x1="50.40" y1="382.20" x2="53.70" y2="382.20" stroke="#151515" stroke-width="1.0"/>
<text x="36.10" y="384.90" font-size="7.8" fill="#111" stroke="#111" textLength="11.30" lengthAdjust="spacingAndGlyphs">100</text>
<line x1="50.40" y1="416.80" x2="53.70" y2="416.80" stroke="#151515" stroke-width="1.0"/>
<text x="39.80" y="419.50" font-size="7.8" fill="#111" stroke="#111" textLength="7.60" lengthAdjust="spacingAndGlyphs">50</text>
<line x1="50.40" y1="451.40" x2="53.70" y2="451.40" stroke="#151515" stroke-width="1.0"/>
<text x="43.50" y="454.10" font-size="7.8" fill="#111" stroke="#111" textLength="3.90" lengthAdjust="spacingAndGlyphs">0</text>
<line x1="64.60" y1="364.10" x2="154.40" y2="364.10" stroke="#2a2a2a" stroke-width="1.15"/>
<text x="109.70" y="364.30" font-size="8" fill="#222" stroke="#222" text-anchor="middle" style="stroke-width:0.45px">**</text>
<line x1="94.20" y1="373.75" x2="154.40" y2="373.75" stroke="#2a2a2a" stroke-width="1.15"/>
<text x="124.40" y="373.95" font-size="8" fill="#222" stroke="#222" text-anchor="middle" style="stroke-width:0.45px">**</text>
<line x1="124.40" y1="382.70" x2="154.40" y2="382.70" stroke="#2a2a2a" stroke-width="1.15"/>
<text x="139.40" y="382.90" font-size="8" fill="#222" stroke="#222" text-anchor="middle" style="stroke-width:0.45px">**</text>
<circle cx="60.80" cy="434.10" r="1.8" fill="#a3122f"/>
<circle cx="66.80" cy="435.60" r="1.8" fill="#a3122f"/>
<circle cx="72.80" cy="434.10" r="1.8" fill="#a3122f"/>
<circle cx="70.40" cy="438.00" r="1.8" fill="#a3122f"/>
<circle cx="65.60" cy="441.10" r="1.8" fill="#a3122f"/>
<circle cx="63.60" cy="436.80" r="1.8" fill="#a3122f"/>
<line x1="58.30" y1="436.50" x2="77.30" y2="436.50" stroke="#111" stroke-width="1.4"/>
<line x1="67.80" y1="434.50" x2="67.80" y2="438.80" stroke="#111" stroke-width="1.1"/>
<line x1="63.00" y1="434.50" x2="72.60" y2="434.50" stroke="#111" stroke-width="1.1"/>
<line x1="63.00" y1="438.80" x2="72.60" y2="438.80" stroke="#111" stroke-width="1.1"/>
<circle cx="89.20" cy="390.60" r="1.8" fill="#e0931c"/>
<circle cx="96.40" cy="388.20" r="1.8" fill="#e0931c"/>
<circle cx="102.90" cy="390.60" r="1.8" fill="#e0931c"/>
<circle cx="99.30" cy="394.20" r="1.8" fill="#e0931c"/>
<circle cx="96.40" cy="399.00" r="1.8" fill="#e0931c"/>
<circle cx="93.30" cy="392.00" r="1.8" fill="#e0931c"/>
<line x1="87.10" y1="392.30" x2="105.90" y2="392.30" stroke="#111" stroke-width="1.4"/>
<line x1="96.50" y1="388.20" x2="96.50" y2="396.60" stroke="#111" stroke-width="1.1"/>
<line x1="91.90" y1="388.20" x2="101.10" y2="388.20" stroke="#111" stroke-width="1.1"/>
<line x1="91.90" y1="396.60" x2="101.10" y2="396.60" stroke="#111" stroke-width="1.1"/>
<circle cx="117.80" cy="434.40" r="1.8" fill="#1f3a78"/>
<circle cx="122.10" cy="436.30" r="1.8" fill="#1f3a78"/>
<circle cx="128.60" cy="433.90" r="1.8" fill="#1f3a78"/>
<circle cx="132.90" cy="432.70" r="1.8" fill="#1f3a78"/>
<circle cx="125.00" cy="441.10" r="1.8" fill="#1f3a78"/>
<circle cx="127.00" cy="438.00" r="1.8" fill="#1f3a78"/>
<line x1="115.40" y1="435.60" x2="134.60" y2="435.60" stroke="#111" stroke-width="1.4"/>
<line x1="125.00" y1="432.90" x2="125.00" y2="438.70" stroke="#111" stroke-width="1.1"/>
<line x1="120.40" y1="432.90" x2="129.60" y2="432.90" stroke="#111" stroke-width="1.1"/>
<line x1="120.40" y1="438.70" x2="129.60" y2="438.70" stroke="#111" stroke-width="1.1"/>
<circle cx="152.20" cy="417.80" r="1.7" fill="#fff" stroke="#c4c4c4" stroke-width="0.7"/>
<circle cx="153.40" cy="428.40" r="1.7" fill="#fff" stroke="#c4c4c4" stroke-width="0.7"/>
<line x1="144.20" y1="420.70" x2="163.60" y2="420.70" stroke="#111" stroke-width="1.4"/>
<line x1="153.90" y1="415.10" x2="153.90" y2="426.20" stroke="#111" stroke-width="1.1"/>
<line x1="149.10" y1="415.10" x2="158.70" y2="415.10" stroke="#111" stroke-width="1.1"/>
<line x1="149.10" y1="426.20" x2="158.70" y2="426.20" stroke="#111" stroke-width="1.1"/>
<text transform="translate(68.40 464.20) rotate(-45)" x="-15.80" y="0" font-size="7.2" fill="#111" stroke="#111" textLength="15.80" lengthAdjust="spacingAndGlyphs">CiTE</text>
<text transform="translate(97.20 463.80) rotate(-45)" x="-14.80" y="0" font-size="7.2" fill="#111" stroke="#111" textLength="14.80" lengthAdjust="spacingAndGlyphs">sctb</text>
<text transform="translate(125.60 463.40) rotate(-45)" x="-29.40" y="0" font-size="7.2" fill="#111" stroke="#111" textLength="29.40" lengthAdjust="spacingAndGlyphs">BiTE-like</text>
<text transform="translate(157.80 464.10) rotate(-45)" x="-44.40" y="0" font-size="7.3" fill="#111" stroke="#111" textLength="44.40" lengthAdjust="spacingAndGlyphs">specificity ctr</text>
<text transform="translate(189.20 487.00) rotate(-90)" font-size="8.6" fill="#111" stroke="#111" textLength="143.30" lengthAdjust="spacingAndGlyphs">% PD-1<tspan font-size="6.0" dy="-3.3">+</tspan><tspan dy="3.3" font-size="1">&#8203;</tspan> of hCD45<tspan font-size="6.0" dy="-3.3">+</tspan><tspan dy="3.3" font-size="1">&#8203;</tspan>CD3<tspan font-size="6.0" dy="-3.3">+</tspan><tspan dy="3.3" font-size="1">&#8203;</tspan>CD4<tspan font-size="6.0" dy="-3.3">-</tspan><tspan dy="3.3" font-size="1">&#8203;</tspan> in BM</text>
<line x1="214.00" y1="376.50" x2="214.00" y2="459.05" stroke="#151515" stroke-width="1.5"/>
<line x1="213.25" y1="458.30" x2="332.70" y2="458.30" stroke="#151515" stroke-width="1.5"/>
<line x1="210.70" y1="379.40" x2="214.00" y2="379.40" stroke="#151515" stroke-width="1.0"/>
<text x="196.40" y="382.10" font-size="7.8" fill="#111" stroke="#111" textLength="11.30" lengthAdjust="spacingAndGlyphs">100</text>
<line x1="210.70" y1="415.40" x2="214.00" y2="415.40" stroke="#151515" stroke-width="1.0"/>
<text x="200.10" y="418.10" font-size="7.8" fill="#111" stroke="#111" textLength="7.60" lengthAdjust="spacingAndGlyphs">50</text>
<line x1="210.70" y1="451.40" x2="214.00" y2="451.40" stroke="#151515" stroke-width="1.0"/>
<text x="203.80" y="454.10" font-size="7.8" fill="#111" stroke="#111" textLength="3.90" lengthAdjust="spacingAndGlyphs">0</text>
<line x1="226.90" y1="365.20" x2="317.70" y2="365.20" stroke="#2a2a2a" stroke-width="1.15"/>
<text x="272.10" y="365.40" font-size="8" fill="#222" stroke="#222" text-anchor="middle" style="stroke-width:0.45px">**</text>
<line x1="257.10" y1="375.10" x2="317.70" y2="375.10" stroke="#2a2a2a" stroke-width="1.15"/>
<text x="286.80" y="375.30" font-size="8" fill="#222" stroke="#222" text-anchor="middle" style="stroke-width:0.45px">**</text>
<line x1="286.80" y1="385.00" x2="317.70" y2="385.00" stroke="#2a2a2a" stroke-width="1.15"/>
<text x="302.30" y="385.20" font-size="8" fill="#222" stroke="#222" text-anchor="middle" style="stroke-width:0.45px">**</text>
<circle cx="220.80" cy="443.00" r="1.8" fill="#a3122f"/>
<circle cx="224.40" cy="443.60" r="1.8" fill="#a3122f"/>
<circle cx="226.80" cy="444.70" r="1.8" fill="#a3122f"/>
<circle cx="231.60" cy="443.60" r="1.8" fill="#a3122f"/>
<circle cx="234.60" cy="442.80" r="1.8" fill="#a3122f"/>
<circle cx="237.20" cy="441.60" r="1.8" fill="#a3122f"/>
<line x1="219.00" y1="443.10" x2="239.00" y2="443.10" stroke="#111" stroke-width="1.4"/>
<line x1="229.00" y1="442.20" x2="229.00" y2="444.00" stroke="#111" stroke-width="1.1"/>
<line x1="225.00" y1="442.20" x2="233.00" y2="442.20" stroke="#111" stroke-width="1.1"/>
<line x1="225.00" y1="444.00" x2="233.00" y2="444.00" stroke="#111" stroke-width="1.1"/>
<circle cx="251.30" cy="386.40" r="1.8" fill="#e0931c"/>
<circle cx="255.70" cy="393.80" r="1.8" fill="#e0931c"/>
<circle cx="254.60" cy="389.40" r="1.8" fill="#e0931c"/>
<circle cx="261.70" cy="388.20" r="1.8" fill="#e0931c"/>
<circle cx="258.20" cy="391.60" r="1.8" fill="#e0931c"/>
<circle cx="261.00" cy="393.80" r="1.8" fill="#e0931c"/>
<line x1="249.00" y1="390.10" x2="268.60" y2="390.10" stroke="#111" stroke-width="1.4"/>
<line x1="258.80" y1="386.40" x2="258.80" y2="393.70" stroke="#111" stroke-width="1.1"/>
<line x1="254.20" y1="386.40" x2="263.40" y2="386.40" stroke="#111" stroke-width="1.1"/>
<line x1="254.20" y1="393.70" x2="263.40" y2="393.70" stroke="#111" stroke-width="1.1"/>
<circle cx="280.20" cy="442.30" r="1.8" fill="#1f3a78"/>
<circle cx="284.50" cy="445.40" r="1.8" fill="#1f3a78"/>
<circle cx="287.40" cy="441.10" r="1.8" fill="#1f3a78"/>
<circle cx="290.60" cy="443.20" r="1.8" fill="#1f3a78"/>
<circle cx="294.10" cy="444.70" r="1.8" fill="#1f3a78"/>
<circle cx="288.10" cy="446.50" r="1.8" fill="#1f3a78"/>
<line x1="278.40" y1="443.90" x2="297.80" y2="443.90" stroke="#111" stroke-width="1.4"/>
<line x1="288.10" y1="441.60" x2="288.10" y2="446.30" stroke="#111" stroke-width="1.1"/>
<line x1="283.50" y1="441.60" x2="292.70" y2="441.60" stroke="#111" stroke-width="1.1"/>
<line x1="283.50" y1="446.30" x2="292.70" y2="446.30" stroke="#111" stroke-width="1.1"/>
<circle cx="315.80" cy="426.20" r="1.7" fill="#fff" stroke="#c4c4c4" stroke-width="0.7"/>
<circle cx="315.30" cy="432.70" r="1.7" fill="#fff" stroke="#c4c4c4" stroke-width="0.7"/>
<line x1="308.00" y1="428.10" x2="327.80" y2="428.10" stroke="#111" stroke-width="1.4"/>
<line x1="317.90" y1="424.80" x2="317.90" y2="432.00" stroke="#111" stroke-width="1.1"/>
<line x1="313.60" y1="424.80" x2="322.20" y2="424.80" stroke="#111" stroke-width="1.1"/>
<line x1="313.60" y1="432.00" x2="322.20" y2="432.00" stroke="#111" stroke-width="1.1"/>
<text transform="translate(231.20 464.60) rotate(-45)" x="-15.80" y="0" font-size="7.2" fill="#111" stroke="#111" textLength="15.80" lengthAdjust="spacingAndGlyphs">CiTE</text>
<text transform="translate(259.30 464.00) rotate(-45)" x="-14.80" y="0" font-size="7.2" fill="#111" stroke="#111" textLength="14.80" lengthAdjust="spacingAndGlyphs">sctb</text>
<text transform="translate(289.40 463.10) rotate(-45)" x="-29.40" y="0" font-size="7.2" fill="#111" stroke="#111" textLength="29.40" lengthAdjust="spacingAndGlyphs">BiTE-like</text>
<text transform="translate(323.10 464.10) rotate(-45)" x="-44.40" y="0" font-size="7.3" fill="#111" stroke="#111" textLength="44.40" lengthAdjust="spacingAndGlyphs">specificity ctr</text>
<text x="348.80" y="152.90" font-size="11.8" fill="#111" stroke="#111" textLength="7.40" lengthAdjust="spacingAndGlyphs">D</text>
<text transform="translate(367.90 287.30) rotate(-90)" font-size="9.3" fill="#111" stroke="#111" textLength="92.20" lengthAdjust="spacingAndGlyphs">% relative body weight</text>
<line x1="393.10" y1="200.10" x2="393.10" y2="283.05" stroke="#151515" stroke-width="1.5"/>
<line x1="392.35" y1="282.30" x2="512.60" y2="282.30" stroke="#151515" stroke-width="1.5"/>
<line x1="389.80" y1="202.70" x2="393.10" y2="202.70" stroke="#151515" stroke-width="1.0"/>
<text x="375.50" y="205.40" font-size="7.6" fill="#111" stroke="#111" textLength="11.30" lengthAdjust="spacingAndGlyphs">105</text>
<line x1="389.80" y1="229.10" x2="393.10" y2="229.10" stroke="#151515" stroke-width="1.0"/>
<text x="375.50" y="231.80" font-size="7.6" fill="#111" stroke="#111" textLength="11.30" lengthAdjust="spacingAndGlyphs">100</text>
<line x1="389.80" y1="255.70" x2="393.10" y2="255.70" stroke="#151515" stroke-width="1.0"/>
<text x="379.20" y="258.40" font-size="7.6" fill="#111" stroke="#111" textLength="7.60" lengthAdjust="spacingAndGlyphs">95</text>
<line x1="389.80" y1="282.30" x2="393.10" y2="282.30" stroke="#151515" stroke-width="1.0"/>
<text x="379.20" y="285.00" font-size="7.6" fill="#111" stroke="#111" textLength="7.60" lengthAdjust="spacingAndGlyphs">90</text>
<line x1="405.00" y1="282.40" x2="405.00" y2="285.50" stroke="#151515" stroke-width="1.0"/>
<text x="401.90" y="295.00" font-size="7.9" fill="#111" stroke="#111" textLength="6.20" lengthAdjust="spacingAndGlyphs">-1</text>
<line x1="428.90" y1="282.40" x2="428.90" y2="285.50" stroke="#151515" stroke-width="1.0"/>
<text x="426.90" y="295.00" font-size="7.9" fill="#111" stroke="#111" textLength="4.00" lengthAdjust="spacingAndGlyphs">3</text>
<line x1="452.90" y1="282.40" x2="452.90" y2="285.50" stroke="#151515" stroke-width="1.0"/>
<text x="450.90" y="295.00" font-size="7.9" fill="#111" stroke="#111" textLength="4.00" lengthAdjust="spacingAndGlyphs">5</text>
<line x1="476.80" y1="282.40" x2="476.80" y2="285.50" stroke="#151515" stroke-width="1.0"/>
<text x="474.80" y="295.00" font-size="7.9" fill="#111" stroke="#111" textLength="4.00" lengthAdjust="spacingAndGlyphs">7</text>
<line x1="500.80" y1="282.40" x2="500.80" y2="285.50" stroke="#151515" stroke-width="1.0"/>
<text x="498.80" y="295.00" font-size="7.9" fill="#111" stroke="#111" textLength="4.00" lengthAdjust="spacingAndGlyphs">9</text>
<text x="397.70" y="308.30" font-size="9.5" fill="#111" stroke="#111" textLength="110.50" lengthAdjust="spacingAndGlyphs">Days post start of treatment</text>
<polyline fill="none" stroke="#e0931c" stroke-width="1.3" points="405.0,229.4 428.9,245.6 452.9,253.4 476.8,256.6 500.8,260.5"/>
<line x1="428.90" y1="238.50" x2="428.90" y2="252.60" stroke="#e0931c" stroke-width="1.1"/>
<line x1="426.90" y1="238.50" x2="430.90" y2="238.50" stroke="#e0931c" stroke-width="1.1"/>
<line x1="426.90" y1="252.60" x2="430.90" y2="252.60" stroke="#e0931c" stroke-width="1.1"/>
<line x1="452.90" y1="245.60" x2="452.90" y2="261.20" stroke="#e0931c" stroke-width="1.1"/>
<line x1="450.90" y1="245.60" x2="454.90" y2="245.60" stroke="#e0931c" stroke-width="1.1"/>
<line x1="450.90" y1="261.20" x2="454.90" y2="261.20" stroke="#e0931c" stroke-width="1.1"/>
<line x1="476.80" y1="249.30" x2="476.80" y2="264.70" stroke="#e0931c" stroke-width="1.1"/>
<line x1="474.80" y1="249.30" x2="478.80" y2="249.30" stroke="#e0931c" stroke-width="1.1"/>
<line x1="474.80" y1="264.70" x2="478.80" y2="264.70" stroke="#e0931c" stroke-width="1.1"/>
<line x1="500.80" y1="251.50" x2="500.80" y2="269.50" stroke="#e0931c" stroke-width="1.1"/>
<line x1="498.80" y1="251.50" x2="502.80" y2="251.50" stroke="#e0931c" stroke-width="1.1"/>
<line x1="498.80" y1="269.50" x2="502.80" y2="269.50" stroke="#e0931c" stroke-width="1.1"/>
<rect x="402.95" y="227.35" width="4.10" height="4.10" fill="#e0931c"/>
<rect x="426.85" y="243.55" width="4.10" height="4.10" fill="#e0931c"/>
<rect x="450.85" y="251.35" width="4.10" height="4.10" fill="#e0931c"/>
<rect x="474.75" y="254.55" width="4.10" height="4.10" fill="#e0931c"/>
<rect x="498.75" y="258.45" width="4.10" height="4.10" fill="#e0931c"/>
<polyline fill="none" stroke="#a3122f" stroke-width="1.3" points="405.0,229.4 428.9,234.7 452.9,233.9 476.8,238.5 500.8,238.8"/>
<line x1="428.90" y1="232.40" x2="428.90" y2="237.00" stroke="#a3122f" stroke-width="1.1"/>
<line x1="426.90" y1="232.40" x2="430.90" y2="232.40" stroke="#a3122f" stroke-width="1.1"/>
<line x1="426.90" y1="237.00" x2="430.90" y2="237.00" stroke="#a3122f" stroke-width="1.1"/>
<line x1="452.90" y1="232.70" x2="452.90" y2="235.10" stroke="#a3122f" stroke-width="1.1"/>
<line x1="450.90" y1="232.70" x2="454.90" y2="232.70" stroke="#a3122f" stroke-width="1.1"/>
<line x1="450.90" y1="235.10" x2="454.90" y2="235.10" stroke="#a3122f" stroke-width="1.1"/>
<line x1="476.80" y1="234.10" x2="476.80" y2="242.50" stroke="#a3122f" stroke-width="1.1"/>
<line x1="474.80" y1="234.10" x2="478.80" y2="234.10" stroke="#a3122f" stroke-width="1.1"/>
<line x1="474.80" y1="242.50" x2="478.80" y2="242.50" stroke="#a3122f" stroke-width="1.1"/>
<line x1="500.80" y1="234.30" x2="500.80" y2="243.00" stroke="#a3122f" stroke-width="1.1"/>
<line x1="498.80" y1="234.30" x2="502.80" y2="234.30" stroke="#a3122f" stroke-width="1.1"/>
<line x1="498.80" y1="243.00" x2="502.80" y2="243.00" stroke="#a3122f" stroke-width="1.1"/>
<circle cx="405.00" cy="229.40" r="2.1" fill="#a3122f"/>
<circle cx="428.90" cy="234.70" r="2.1" fill="#a3122f"/>
<circle cx="452.90" cy="233.90" r="2.1" fill="#a3122f"/>
<circle cx="476.80" cy="238.50" r="2.1" fill="#a3122f"/>
<circle cx="500.80" cy="238.80" r="2.1" fill="#a3122f"/>
<text x="452.9" y="231.9" font-size="8" fill="#222" stroke="#222" text-anchor="middle" style="stroke-width:0.5px">*</text>
<text x="500.8" y="233.9" font-size="8" fill="#222" stroke="#222" text-anchor="middle" style="stroke-width:0.5px">*</text>
<line x1="423.00" y1="321.40" x2="431.90" y2="321.40" stroke="#a3122f" stroke-width="1.3"/>
<circle cx="427.40" cy="321.40" r="2.1" fill="#a3122f"/>
<text x="434.90" y="324.00" font-size="7.4" fill="#111" stroke="#111" textLength="14.00" lengthAdjust="spacingAndGlyphs">CiTE</text>
<line x1="456.70" y1="321.40" x2="465.90" y2="321.40" stroke="#e0931c" stroke-width="1.3"/>
<rect x="459.30" y="319.35" width="4.10" height="4.10" fill="#e0931c"/>
<text x="469.10" y="324.00" font-size="7.4" fill="#111" stroke="#111" textLength="13.70" lengthAdjust="spacingAndGlyphs">sctb</text>
</svg>
</body></html>
